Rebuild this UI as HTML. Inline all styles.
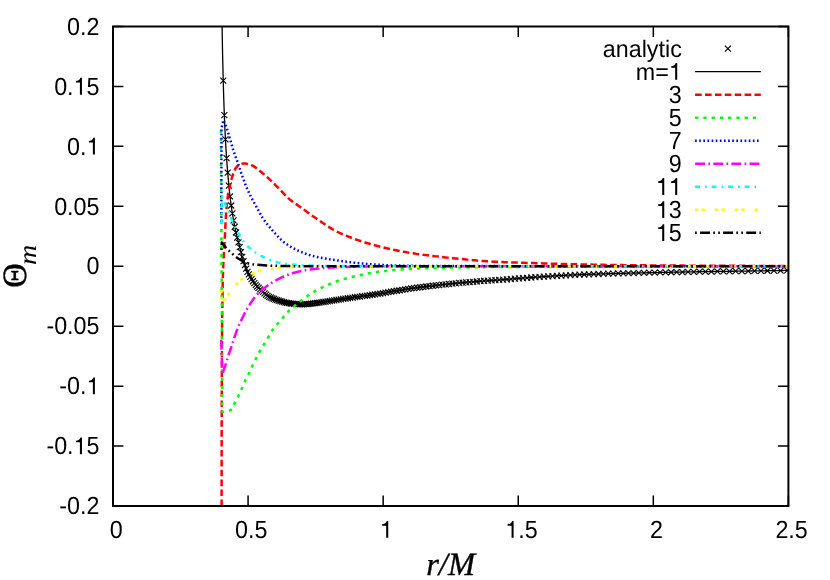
<!DOCTYPE html>
<html><head><meta charset="utf-8"><title>plot</title>
<style>html,body{margin:0;padding:0;background:#fff}svg{display:block;will-change:transform}</style></head>
<body>
<svg width="830" height="580" viewBox="0 0 830 580">
<defs><clipPath id="c"><rect x="113.00" y="26.50" width="675.40" height="479.50"/></clipPath></defs>
<path d="M113.00,506.00 v-10.4 M113.00,26.50 v10.4 M248.08,506.00 v-10.4 M248.08,26.50 v10.4 M383.16,506.00 v-10.4 M383.16,26.50 v10.4 M518.24,506.00 v-10.4 M518.24,26.50 v10.4 M653.32,506.00 v-10.4 M653.32,26.50 v10.4 M788.40,506.00 v-10.4 M788.40,26.50 v10.4 M113.00,506.00 h10.4 M788.40,506.00 h-10.4 M113.00,446.06 h10.4 M788.40,446.06 h-10.4 M113.00,386.13 h10.4 M788.40,386.13 h-10.4 M113.00,326.19 h10.4 M788.40,326.19 h-10.4 M113.00,266.25 h10.4 M788.40,266.25 h-10.4 M113.00,206.31 h10.4 M788.40,206.31 h-10.4 M113.00,146.37 h10.4 M788.40,146.37 h-10.4 M113.00,86.44 h10.4 M788.40,86.44 h-10.4 M113.00,26.50 h10.4 M788.40,26.50 h-10.4" stroke="#000" stroke-width="1.5" fill="none"/>
<g clip-path="url(#c)">
<path d="M220.24,77.65 l6.0,6.0 M220.24,83.65 l6.0,-6.0 M221.34,112.16 l6.0,6.0 M221.34,118.16 l6.0,-6.0 M222.45,136.43 l6.0,6.0 M222.45,142.43 l6.0,-6.0 M223.58,155.15 l6.0,6.0 M223.58,161.15 l6.0,-6.0 M224.71,169.63 l6.0,6.0 M224.71,175.63 l6.0,-6.0 M225.86,182.59 l6.0,6.0 M225.86,188.59 l6.0,-6.0 M227.02,193.38 l6.0,6.0 M227.02,199.38 l6.0,-6.0 M228.19,202.49 l6.0,6.0 M228.19,208.49 l6.0,-6.0 M229.37,210.30 l6.0,6.0 M229.37,216.30 l6.0,-6.0 M230.56,217.30 l6.0,6.0 M230.56,223.30 l6.0,-6.0 M231.77,223.74 l6.0,6.0 M231.77,229.74 l6.0,-6.0 M232.99,229.50 l6.0,6.0 M232.99,235.50 l6.0,-6.0 M234.22,234.55 l6.0,6.0 M234.22,240.55 l6.0,-6.0 M235.46,239.34 l6.0,6.0 M235.46,245.34 l6.0,-6.0 M236.71,244.18 l6.0,6.0 M236.71,250.18 l6.0,-6.0 M237.98,249.08 l6.0,6.0 M237.98,255.08 l6.0,-6.0 M239.26,253.80 l6.0,6.0 M239.26,259.80 l6.0,-6.0 M240.55,258.20 l6.0,6.0 M240.55,264.20 l6.0,-6.0 M241.86,262.16 l6.0,6.0 M241.86,268.16 l6.0,-6.0 M243.18,265.69 l6.0,6.0 M243.18,271.69 l6.0,-6.0 M244.51,268.79 l6.0,6.0 M244.51,274.79 l6.0,-6.0 M245.85,271.46 l6.0,6.0 M245.85,277.46 l6.0,-6.0 M247.21,273.90 l6.0,6.0 M247.21,279.90 l6.0,-6.0 M248.58,276.16 l6.0,6.0 M248.58,282.16 l6.0,-6.0 M249.97,278.26 l6.0,6.0 M249.97,284.26 l6.0,-6.0 M251.37,280.19 l6.0,6.0 M251.37,286.19 l6.0,-6.0 M252.78,281.95 l6.0,6.0 M252.78,287.95 l6.0,-6.0 M254.21,283.51 l6.0,6.0 M254.21,289.51 l6.0,-6.0 M255.65,284.95 l6.0,6.0 M255.65,290.95 l6.0,-6.0 M257.11,286.32 l6.0,6.0 M257.11,292.32 l6.0,-6.0 M258.58,287.65 l6.0,6.0 M258.58,293.65 l6.0,-6.0 M260.07,288.98 l6.0,6.0 M260.07,294.98 l6.0,-6.0 M261.57,290.33 l6.0,6.0 M261.57,296.33 l6.0,-6.0 M263.08,291.64 l6.0,6.0 M263.08,297.64 l6.0,-6.0 M264.61,292.81 l6.0,6.0 M264.61,298.81 l6.0,-6.0 M266.16,293.81 l6.0,6.0 M266.16,299.81 l6.0,-6.0 M267.72,294.62 l6.0,6.0 M267.72,300.62 l6.0,-6.0 M269.30,295.32 l6.0,6.0 M269.30,301.32 l6.0,-6.0 M270.89,295.96 l6.0,6.0 M270.89,301.96 l6.0,-6.0 M272.50,296.54 l6.0,6.0 M272.50,302.54 l6.0,-6.0 M274.13,297.09 l6.0,6.0 M274.13,303.09 l6.0,-6.0 M275.77,297.61 l6.0,6.0 M275.77,303.61 l6.0,-6.0 M277.43,298.13 l6.0,6.0 M277.43,304.13 l6.0,-6.0 M279.10,298.65 l6.0,6.0 M279.10,304.65 l6.0,-6.0 M280.79,299.15 l6.0,6.0 M280.79,305.15 l6.0,-6.0 M282.50,299.59 l6.0,6.0 M282.50,305.59 l6.0,-6.0 M284.22,299.94 l6.0,6.0 M284.22,305.94 l6.0,-6.0 M285.97,300.23 l6.0,6.0 M285.97,306.23 l6.0,-6.0 M287.73,300.49 l6.0,6.0 M287.73,306.49 l6.0,-6.0 M289.50,300.71 l6.0,6.0 M289.50,306.71 l6.0,-6.0 M291.30,300.88 l6.0,6.0 M291.30,306.88 l6.0,-6.0 M293.11,301.03 l6.0,6.0 M293.11,307.03 l6.0,-6.0 M294.94,301.16 l6.0,6.0 M294.94,307.16 l6.0,-6.0 M296.79,301.26 l6.0,6.0 M296.79,307.26 l6.0,-6.0 M298.66,301.30 l6.0,6.0 M298.66,307.30 l6.0,-6.0 M300.55,301.26 l6.0,6.0 M300.55,307.26 l6.0,-6.0 M302.45,301.16 l6.0,6.0 M302.45,307.16 l6.0,-6.0 M304.38,301.02 l6.0,6.0 M304.38,307.02 l6.0,-6.0 M306.32,300.87 l6.0,6.0 M306.32,306.87 l6.0,-6.0 M308.28,300.68 l6.0,6.0 M308.28,306.68 l6.0,-6.0 M310.27,300.46 l6.0,6.0 M310.27,306.46 l6.0,-6.0 M312.27,300.19 l6.0,6.0 M312.27,306.19 l6.0,-6.0 M314.29,299.91 l6.0,6.0 M314.29,305.91 l6.0,-6.0 M316.33,299.60 l6.0,6.0 M316.33,305.60 l6.0,-6.0 M318.40,299.29 l6.0,6.0 M318.40,305.29 l6.0,-6.0 M320.48,298.99 l6.0,6.0 M320.48,304.99 l6.0,-6.0 M322.59,298.68 l6.0,6.0 M322.59,304.68 l6.0,-6.0 M324.71,298.37 l6.0,6.0 M324.71,304.37 l6.0,-6.0 M326.86,298.04 l6.0,6.0 M326.86,304.04 l6.0,-6.0 M329.03,297.70 l6.0,6.0 M329.03,303.70 l6.0,-6.0 M331.22,297.35 l6.0,6.0 M331.22,303.35 l6.0,-6.0 M333.43,297.01 l6.0,6.0 M333.43,303.01 l6.0,-6.0 M335.66,296.67 l6.0,6.0 M335.66,302.67 l6.0,-6.0 M337.92,296.32 l6.0,6.0 M337.92,302.32 l6.0,-6.0 M340.20,295.97 l6.0,6.0 M340.20,301.97 l6.0,-6.0 M342.50,295.62 l6.0,6.0 M342.50,301.62 l6.0,-6.0 M344.83,295.26 l6.0,6.0 M344.83,301.26 l6.0,-6.0 M347.18,294.91 l6.0,6.0 M347.18,300.91 l6.0,-6.0 M349.55,294.56 l6.0,6.0 M349.55,300.56 l6.0,-6.0 M351.94,294.22 l6.0,6.0 M351.94,300.22 l6.0,-6.0 M354.36,293.89 l6.0,6.0 M354.36,299.89 l6.0,-6.0 M356.81,293.56 l6.0,6.0 M356.81,299.56 l6.0,-6.0 M359.27,293.22 l6.0,6.0 M359.27,299.22 l6.0,-6.0 M361.77,292.88 l6.0,6.0 M361.77,298.88 l6.0,-6.0 M364.28,292.52 l6.0,6.0 M364.28,298.52 l6.0,-6.0 M366.83,292.14 l6.0,6.0 M366.83,298.14 l6.0,-6.0 M369.40,291.76 l6.0,6.0 M369.40,297.76 l6.0,-6.0 M371.99,291.37 l6.0,6.0 M371.99,297.37 l6.0,-6.0 M374.61,290.97 l6.0,6.0 M374.61,296.97 l6.0,-6.0 M377.26,290.55 l6.0,6.0 M377.26,296.55 l6.0,-6.0 M379.93,290.12 l6.0,6.0 M379.93,296.12 l6.0,-6.0 M382.63,289.67 l6.0,6.0 M382.63,295.67 l6.0,-6.0 M385.35,289.20 l6.0,6.0 M385.35,295.20 l6.0,-6.0 M388.11,288.72 l6.0,6.0 M388.11,294.72 l6.0,-6.0 M390.89,288.23 l6.0,6.0 M390.89,294.23 l6.0,-6.0 M393.70,287.75 l6.0,6.0 M393.70,293.75 l6.0,-6.0 M396.53,287.28 l6.0,6.0 M396.53,293.28 l6.0,-6.0 M399.40,286.81 l6.0,6.0 M399.40,292.81 l6.0,-6.0 M402.29,286.35 l6.0,6.0 M402.29,292.35 l6.0,-6.0 M405.22,285.90 l6.0,6.0 M405.22,291.90 l6.0,-6.0 M408.17,285.47 l6.0,6.0 M408.17,291.47 l6.0,-6.0 M411.15,285.06 l6.0,6.0 M411.15,291.06 l6.0,-6.0 M414.16,284.65 l6.0,6.0 M414.16,290.65 l6.0,-6.0 M417.20,284.25 l6.0,6.0 M417.20,290.25 l6.0,-6.0 M420.27,283.87 l6.0,6.0 M420.27,289.87 l6.0,-6.0 M423.38,283.49 l6.0,6.0 M423.38,289.49 l6.0,-6.0 M426.51,283.12 l6.0,6.0 M426.51,289.12 l6.0,-6.0 M429.68,282.76 l6.0,6.0 M429.68,288.76 l6.0,-6.0 M432.87,282.41 l6.0,6.0 M432.87,288.41 l6.0,-6.0 M436.10,282.06 l6.0,6.0 M436.10,288.06 l6.0,-6.0 M439.36,281.71 l6.0,6.0 M439.36,287.71 l6.0,-6.0 M442.66,281.36 l6.0,6.0 M442.66,287.36 l6.0,-6.0 M445.98,281.01 l6.0,6.0 M445.98,287.01 l6.0,-6.0 M449.34,280.66 l6.0,6.0 M449.34,286.66 l6.0,-6.0 M452.74,280.32 l6.0,6.0 M452.74,286.32 l6.0,-6.0 M456.16,279.98 l6.0,6.0 M456.16,285.98 l6.0,-6.0 M459.63,279.66 l6.0,6.0 M459.63,285.66 l6.0,-6.0 M463.12,279.35 l6.0,6.0 M463.12,285.35 l6.0,-6.0 M466.65,279.05 l6.0,6.0 M466.65,285.05 l6.0,-6.0 M470.22,278.77 l6.0,6.0 M470.22,284.77 l6.0,-6.0 M473.82,278.50 l6.0,6.0 M473.82,284.50 l6.0,-6.0 M477.46,278.23 l6.0,6.0 M477.46,284.23 l6.0,-6.0 M481.13,277.97 l6.0,6.0 M481.13,283.97 l6.0,-6.0 M484.85,277.71 l6.0,6.0 M484.85,283.71 l6.0,-6.0 M488.59,277.45 l6.0,6.0 M488.59,283.45 l6.0,-6.0 M492.38,277.19 l6.0,6.0 M492.38,283.19 l6.0,-6.0 M496.20,276.91 l6.0,6.0 M496.20,282.91 l6.0,-6.0 M500.07,276.62 l6.0,6.0 M500.07,282.62 l6.0,-6.0 M503.97,276.32 l6.0,6.0 M503.97,282.32 l6.0,-6.0 M507.91,276.02 l6.0,6.0 M507.91,282.02 l6.0,-6.0 M511.89,275.71 l6.0,6.0 M511.89,281.71 l6.0,-6.0 M515.90,275.40 l6.0,6.0 M515.90,281.40 l6.0,-6.0 M519.96,275.09 l6.0,6.0 M519.96,281.09 l6.0,-6.0 M524.06,274.78 l6.0,6.0 M524.06,280.78 l6.0,-6.0 M528.20,274.49 l6.0,6.0 M528.20,280.49 l6.0,-6.0 M532.39,274.20 l6.0,6.0 M532.39,280.20 l6.0,-6.0 M536.61,273.92 l6.0,6.0 M536.61,279.92 l6.0,-6.0 M540.88,273.64 l6.0,6.0 M540.88,279.64 l6.0,-6.0 M545.18,273.36 l6.0,6.0 M545.18,279.36 l6.0,-6.0 M549.54,273.08 l6.0,6.0 M549.54,279.08 l6.0,-6.0 M553.93,272.81 l6.0,6.0 M553.93,278.81 l6.0,-6.0 M558.37,272.56 l6.0,6.0 M558.37,278.56 l6.0,-6.0 M562.85,272.31 l6.0,6.0 M562.85,278.31 l6.0,-6.0 M567.38,272.09 l6.0,6.0 M567.38,278.09 l6.0,-6.0 M571.96,271.88 l6.0,6.0 M571.96,277.88 l6.0,-6.0 M576.58,271.69 l6.0,6.0 M576.58,277.69 l6.0,-6.0 M581.24,271.50 l6.0,6.0 M581.24,277.50 l6.0,-6.0 M585.95,271.33 l6.0,6.0 M585.95,277.33 l6.0,-6.0 M590.71,271.16 l6.0,6.0 M590.71,277.16 l6.0,-6.0 M595.52,271.00 l6.0,6.0 M595.52,277.00 l6.0,-6.0 M600.38,270.85 l6.0,6.0 M600.38,276.85 l6.0,-6.0 M605.28,270.70 l6.0,6.0 M605.28,276.70 l6.0,-6.0 M610.23,270.56 l6.0,6.0 M610.23,276.56 l6.0,-6.0 M615.24,270.43 l6.0,6.0 M615.24,276.43 l6.0,-6.0 M620.29,270.30 l6.0,6.0 M620.29,276.30 l6.0,-6.0 M625.39,270.18 l6.0,6.0 M625.39,276.18 l6.0,-6.0 M630.54,270.06 l6.0,6.0 M630.54,276.06 l6.0,-6.0 M635.75,269.94 l6.0,6.0 M635.75,275.94 l6.0,-6.0 M641.01,269.83 l6.0,6.0 M641.01,275.83 l6.0,-6.0 M646.32,269.71 l6.0,6.0 M646.32,275.71 l6.0,-6.0 M651.68,269.60 l6.0,6.0 M651.68,275.60 l6.0,-6.0 M657.10,269.48 l6.0,6.0 M657.10,275.48 l6.0,-6.0 M662.57,269.37 l6.0,6.0 M662.57,275.37 l6.0,-6.0 M668.09,269.26 l6.0,6.0 M668.09,275.26 l6.0,-6.0 M673.68,269.14 l6.0,6.0 M673.68,275.14 l6.0,-6.0 M679.31,269.03 l6.0,6.0 M679.31,275.03 l6.0,-6.0 M685.01,268.93 l6.0,6.0 M685.01,274.93 l6.0,-6.0 M690.76,268.82 l6.0,6.0 M690.76,274.82 l6.0,-6.0 M696.56,268.72 l6.0,6.0 M696.56,274.72 l6.0,-6.0 M702.43,268.62 l6.0,6.0 M702.43,274.62 l6.0,-6.0 M708.35,268.53 l6.0,6.0 M708.35,274.53 l6.0,-6.0 M714.34,268.44 l6.0,6.0 M714.34,274.44 l6.0,-6.0 M720.38,268.36 l6.0,6.0 M720.38,274.36 l6.0,-6.0 M726.48,268.28 l6.0,6.0 M726.48,274.28 l6.0,-6.0 M732.65,268.20 l6.0,6.0 M732.65,274.20 l6.0,-6.0 M738.87,268.12 l6.0,6.0 M738.87,274.12 l6.0,-6.0 M745.16,268.03 l6.0,6.0 M745.16,274.03 l6.0,-6.0 M751.52,267.93 l6.0,6.0 M751.52,273.93 l6.0,-6.0 M757.93,267.84 l6.0,6.0 M757.93,273.84 l6.0,-6.0 M764.41,267.74 l6.0,6.0 M764.41,273.74 l6.0,-6.0 M770.95,267.63 l6.0,6.0 M770.95,273.63 l6.0,-6.0 M777.56,267.53 l6.0,6.0 M777.56,273.53 l6.0,-6.0 M784.24,267.42 l6.0,6.0 M784.24,273.42 l6.0,-6.0" stroke="#000" stroke-width="1.1" fill="none"/>
<path d="M222.10,26.30 L222.11,26.84 L222.12,27.37 L222.12,27.91 L222.13,28.44 L222.14,28.98 L222.15,29.52 L222.16,30.05 L222.16,30.59 L222.17,31.12 L222.18,31.66 L222.19,32.20 L222.20,32.73 L222.21,33.27 L222.21,33.80 L222.22,34.34 L222.23,34.88 L222.24,35.41 L222.25,35.95 L222.26,36.48 L222.27,37.02 L222.28,37.56 L222.29,38.09 L222.30,38.63 L222.31,39.16 L222.32,39.70 L222.33,40.24 L222.34,40.77 L222.35,41.31 L222.36,41.84 L222.37,42.38 L222.38,42.92 L222.39,43.45 L222.40,43.99 L222.41,44.52 L222.42,45.06 L222.43,45.60 L222.44,46.13 L222.45,46.67 L222.46,47.20 L222.47,47.74 L222.48,48.28 L222.49,48.81 L222.50,49.35 L222.51,49.88 L222.53,50.42 L222.54,50.96 L222.55,51.49 L222.56,52.03 L222.57,52.56 L222.58,53.10 L222.59,53.64 L222.60,54.17 L222.62,54.71 L222.63,55.24 L222.64,55.78 L222.65,56.32 L222.66,56.85 L222.67,57.39 L222.69,57.92 L222.70,58.46 L222.71,59.00 L222.72,59.53 L222.74,60.07 L222.75,60.60 L222.76,61.14 L222.77,61.68 L222.78,62.21 L222.80,62.75 L222.81,63.28 L222.82,63.82 L222.83,64.35 L222.85,64.89 L222.86,65.43 L222.87,65.96 L222.88,66.50 L222.90,67.03 L222.91,67.57 L222.92,68.11 L222.94,68.64 L222.95,69.18 L222.96,69.71 L222.98,70.25 L222.99,70.79 L223.00,71.32 L223.01,71.86 L223.03,72.39 L223.04,72.93 L223.05,73.47 L223.07,74.00 L223.08,74.54 L223.09,75.07 L223.11,75.61 L223.12,76.14 L223.14,76.68 L223.15,77.22 L223.16,77.75 L223.18,78.29 L223.19,78.82 L223.20,79.36 L223.22,79.90 L223.23,80.43 L223.24,80.97 L223.26,81.50 L223.27,82.04 L223.29,82.58 L223.30,83.11 L223.31,83.65 L223.33,84.18 L223.34,84.72 L223.36,85.25 L223.37,85.79 L223.39,86.33 L223.40,86.86 L223.42,87.40 L223.43,87.93 L223.45,88.47 L223.46,89.01 L223.48,89.54 L223.49,90.08 L223.51,90.61 L223.53,91.15 L223.54,91.68 L223.56,92.22 L223.57,92.76 L223.59,93.29 L223.61,93.83 L223.62,94.36 L223.64,94.90 L223.66,95.44 L223.67,95.97 L223.69,96.51 L223.71,97.04 L223.72,97.58 L223.74,98.11 L223.76,98.65 L223.78,99.19 L223.79,99.72 L223.81,100.26 L223.83,100.79 L223.85,101.33 L223.86,101.87 L223.88,102.40 L223.90,102.94 L223.92,103.47 L223.94,104.01 L223.95,104.54 L223.97,105.08 L223.99,105.62 L224.01,106.15 L224.03,106.69 L224.05,107.22 L224.07,107.76 L224.09,108.29 L224.10,108.83 L224.12,109.37 L224.14,109.90 L224.16,110.44 L224.18,110.97 L224.20,111.51 L224.22,112.04 L224.24,112.58 L224.26,113.12 L224.28,113.65 L224.30,114.19 L224.32,114.72 L224.34,115.26 L224.36,115.79 L224.38,116.33 L224.40,116.87 L224.43,117.40 L224.45,117.94 L224.47,118.47 L224.49,119.01 L224.51,119.54 L224.53,120.08 L224.56,120.61 L224.58,121.15 L224.60,121.69 L224.63,122.22 L224.65,122.76 L224.67,123.29 L224.70,123.83 L224.72,124.36 L224.74,124.90 L224.77,125.43 L224.79,125.97 L224.82,126.51 L224.84,127.04 L224.86,127.58 L224.89,128.11 L224.91,128.65 L224.94,129.18 L224.97,129.72 L224.99,130.25 L225.02,130.79 L225.04,131.33 L225.07,131.86 L225.09,132.40 L225.12,132.93 L225.15,133.47 L225.17,134.00 L225.20,134.54 L225.23,135.07 L225.25,135.61 L225.28,136.14 L225.31,136.68 L225.34,137.22 L225.36,137.75 L225.39,138.29 L225.42,138.82 L225.45,139.36 L225.48,139.89 L225.50,140.43 L225.53,140.96 L225.56,141.50 L225.59,142.03 L225.62,142.57 L225.65,143.10 L225.68,143.64 L225.71,144.17 L225.74,144.71 L225.77,145.24 L225.80,145.78 L225.83,146.31 L225.86,146.85 L225.89,147.39 L225.92,147.92 L225.96,148.46 L225.99,148.99 L226.02,149.53 L226.05,150.06 L226.09,150.60 L226.12,151.13 L226.15,151.67 L226.19,152.20 L226.22,152.74 L226.25,153.27 L226.29,153.81 L226.32,154.34 L226.36,154.88 L226.39,155.41 L226.43,155.95 L226.46,156.48 L226.50,157.02 L226.54,157.55 L226.57,158.09 L226.61,158.62 L226.65,159.15 L226.68,159.69 L226.72,160.22 L226.76,160.76 L226.80,161.29 L226.84,161.83 L226.88,162.36 L226.92,162.90 L226.96,163.43 L227.01,163.97 L227.05,164.50 L227.09,165.03 L227.13,165.57 L227.17,166.10 L227.22,166.64 L227.26,167.17 L227.30,167.71 L227.35,168.24 L227.39,168.78 L227.44,169.31 L227.48,169.84 L227.53,170.38 L227.57,170.91 L227.61,171.45 L227.66,171.98 L227.70,172.51 L227.75,173.05 L227.79,173.58 L227.84,174.12 L227.88,174.65 L227.93,175.19 L227.97,175.72 L228.02,176.25 L228.06,176.79 L228.11,177.32 L228.15,177.86 L228.20,178.39 L228.25,178.92 L228.29,179.46 L228.34,179.99 L228.39,180.53 L228.44,181.06 L228.48,181.59 L228.53,182.13 L228.58,182.66 L228.63,183.20 L228.68,183.73 L228.73,184.26 L228.78,184.80 L228.83,185.33 L228.89,185.86 L228.94,186.40 L228.99,186.93 L229.04,187.46 L229.10,188.00 L229.15,188.53 L229.21,189.06 L229.26,189.60 L229.32,190.13 L229.38,190.66 L229.43,191.20 L229.49,191.73 L229.55,192.26 L229.61,192.80 L229.67,193.33 L229.73,193.86 L229.79,194.39 L229.85,194.93 L229.91,195.46 L229.97,195.99 L230.03,196.52 L230.10,197.06 L230.16,197.59 L230.23,198.12 L230.29,198.65 L230.36,199.18 L230.42,199.72 L230.49,200.25 L230.56,200.78 L230.63,201.31 L230.70,201.84 L230.77,202.38 L230.84,202.91 L230.91,203.44 L230.98,203.97 L231.05,204.50 L231.13,205.03 L231.20,205.56 L231.27,206.09 L231.35,206.62 L231.42,207.15 L231.50,207.69 L231.58,208.22 L231.66,208.75 L231.74,209.28 L231.82,209.81 L231.90,210.34 L231.98,210.87 L232.06,211.40 L232.15,211.93 L232.23,212.45 L232.32,212.98 L232.40,213.51 L232.49,214.04 L232.58,214.57 L232.67,215.10 L232.76,215.63 L232.85,216.16 L232.93,216.69 L233.02,217.21 L233.12,217.74 L233.21,218.27 L233.30,218.80 L233.39,219.33 L233.48,219.86 L233.58,220.38 L233.67,220.91 L233.77,221.44 L233.86,221.97 L233.96,222.50 L234.06,223.02 L234.16,223.55 L234.26,224.08 L234.36,224.60 L234.46,225.13 L234.56,225.66 L234.66,226.18 L234.76,226.71 L234.87,227.23 L234.97,227.76 L235.08,228.29 L235.19,228.81 L235.30,229.33 L235.41,229.86 L235.52,230.38 L235.63,230.91 L235.74,231.43 L235.86,231.95 L235.98,232.47 L236.10,233.00 L236.22,233.52 L236.35,234.04 L236.47,234.56 L236.60,235.08 L236.73,235.60 L236.86,236.12 L236.99,236.64 L237.12,237.16 L237.25,237.68 L237.38,238.20 L237.52,238.72 L237.65,239.24 L237.78,239.76 L237.92,240.28 L238.06,240.80 L238.19,241.32 L238.33,241.84 L238.46,242.35 L238.60,242.87 L238.73,243.39 L238.87,243.91 L239.00,244.43 L239.14,244.95 L239.27,245.47 L239.41,245.99 L239.54,246.51 L239.67,247.03 L239.81,247.55 L239.94,248.06 L240.07,248.58 L240.21,249.10 L240.34,249.62 L240.48,250.14 L240.61,250.66 L240.75,251.18 L240.88,251.70 L241.02,252.22 L241.15,252.74 L241.29,253.26 L241.43,253.77 L241.57,254.29 L241.71,254.81 L241.85,255.33 L241.99,255.84 L242.14,256.36 L242.28,256.88 L242.43,257.39 L242.57,257.91 L242.72,258.42 L242.87,258.94 L243.02,259.45 L243.18,259.96 L243.33,260.48 L243.49,260.99 L243.65,261.50 L243.81,262.01 L243.97,262.52 L244.14,263.03 L244.30,263.54 L244.48,264.05 L244.65,264.56 L244.82,265.07 L245.00,265.57 L245.18,266.08 L245.37,266.58 L245.55,267.08 L245.74,267.58 L245.94,268.08 L246.13,268.58 L246.33,269.08 L246.53,269.58 L246.74,270.08 L246.95,270.57 L247.17,271.06 L247.39,271.55 L247.62,272.03 L247.85,272.51 L248.09,272.99 L248.33,273.46 L248.58,273.94 L248.83,274.41 L249.08,274.89 L249.34,275.36 L249.60,275.83 L249.87,276.31 L250.14,276.77 L250.41,277.24 L250.69,277.71 L250.97,278.17 L251.25,278.63 L251.54,279.09 L251.83,279.55 L252.12,280.00 L252.42,280.45 L252.72,280.89 L253.03,281.34 L253.33,281.78 L253.65,282.21 L253.96,282.64 L254.28,283.06 L254.60,283.49 L254.92,283.90 L255.25,284.31 L255.59,284.72 L255.93,285.12 L256.29,285.52 L256.65,285.91 L257.01,286.31 L257.38,286.69 L257.76,287.08 L258.14,287.46 L258.53,287.84 L258.92,288.21 L259.31,288.58 L259.71,288.95 L260.11,289.32 L260.51,289.68 L260.91,290.04 L261.31,290.40 L261.71,290.76 L262.11,291.12 L262.51,291.47 L262.91,291.83 L263.31,292.20 L263.71,292.56 L264.11,292.93 L264.52,293.29 L264.93,293.65 L265.34,294.01 L265.76,294.36 L266.17,294.71 L266.59,295.05 L267.02,295.38 L267.45,295.70 L267.88,296.00 L268.32,296.30 L268.77,296.58 L269.22,296.84 L269.67,297.09 L270.13,297.33 L270.60,297.56 L271.08,297.79 L271.56,298.00 L272.05,298.22 L272.54,298.42 L273.04,298.63 L273.54,298.82 L274.05,299.01 L274.55,299.20 L275.06,299.39 L275.58,299.57 L276.09,299.74 L276.61,299.91 L277.13,300.09 L277.64,300.25 L278.16,300.42 L278.67,300.58 L279.19,300.74 L279.70,300.91 L280.21,301.07 L280.72,301.23 L281.23,301.39 L281.75,301.55 L282.26,301.70 L282.78,301.86 L283.29,302.01 L283.81,302.16 L284.33,302.30 L284.85,302.43 L285.37,302.56 L285.89,302.68 L286.41,302.79 L286.94,302.89 L287.46,302.98 L287.99,303.07 L288.52,303.16 L289.05,303.25 L289.58,303.33 L290.11,303.41 L290.64,303.48 L291.17,303.55 L291.71,303.62 L292.24,303.68 L292.77,303.74 L293.31,303.79 L293.84,303.84 L294.38,303.89 L294.91,303.93 L295.44,303.97 L295.98,304.02 L296.51,304.06 L297.05,304.10 L297.58,304.14 L298.12,304.17 L298.66,304.20 L299.19,304.23 L299.73,304.26 L300.26,304.28 L300.80,304.29 L301.33,304.30 L301.87,304.30 L302.40,304.29 L302.94,304.28 L303.48,304.26 L304.01,304.24 L304.55,304.21 L305.08,304.18 L305.62,304.15 L306.15,304.11 L306.69,304.07 L307.22,304.03 L307.76,303.99 L308.29,303.95 L308.83,303.91 L309.36,303.86 L309.89,303.82 L310.43,303.77 L310.96,303.72 L311.49,303.66 L312.03,303.60 L312.56,303.54 L313.09,303.48 L313.62,303.41 L314.15,303.34 L314.69,303.27 L315.22,303.20 L315.75,303.13 L316.28,303.05 L316.81,302.98 L317.34,302.90 L317.87,302.82 L318.40,302.74 L318.93,302.66 L319.46,302.58 L320.00,302.50 L320.53,302.42 L321.06,302.34 L321.59,302.26 L322.12,302.18 L322.65,302.11 L323.18,302.03 L323.71,301.96 L324.24,301.88 L324.77,301.80 L325.30,301.73 L325.83,301.65 L326.36,301.57 L326.89,301.49 L327.42,301.41 L327.95,301.33 L328.48,301.25 L329.01,301.17 L329.54,301.08 L330.07,301.00 L330.60,300.92 L331.13,300.84 L331.66,300.75 L332.19,300.67 L332.72,300.59 L333.25,300.51 L333.78,300.42 L334.31,300.34 L334.84,300.26 L335.37,300.17 L335.90,300.09 L336.43,300.01 L336.96,299.93 L337.49,299.85 L338.02,299.77 L338.55,299.69 L339.08,299.60 L339.61,299.52 L340.14,299.44 L340.67,299.36 L341.20,299.28 L341.73,299.20 L342.26,299.12 L342.79,299.03 L343.32,298.95 L343.85,298.87 L344.38,298.79 L344.91,298.71 L345.44,298.63 L345.97,298.55 L346.50,298.47 L347.03,298.39 L347.56,298.30 L348.09,298.22 L348.62,298.14 L349.15,298.07 L349.68,297.99 L350.21,297.91 L350.74,297.83 L351.27,297.75 L351.80,297.67 L352.33,297.60 L352.86,297.52 L353.39,297.44 L353.92,297.37 L354.45,297.29 L354.98,297.22 L355.51,297.15 L356.04,297.07 L356.57,297.00 L357.11,296.93 L357.64,296.85 L358.17,296.78 L358.70,296.71 L359.23,296.64 L359.76,296.56 L360.29,296.49 L360.82,296.42 L361.36,296.35 L361.89,296.28 L362.42,296.20 L362.95,296.13 L363.48,296.06 L364.01,295.98 L364.54,295.91 L365.07,295.83 L365.60,295.76 L366.13,295.68 L366.66,295.61 L367.19,295.53 L367.73,295.45 L368.26,295.37 L368.79,295.30 L369.32,295.22 L369.85,295.14 L370.38,295.06 L370.91,294.98 L371.44,294.90 L371.97,294.83 L372.50,294.75 L373.03,294.67 L373.56,294.59 L374.09,294.51 L374.62,294.43 L375.15,294.35 L375.68,294.26 L376.21,294.18 L376.74,294.10 L377.27,294.02 L377.80,293.94 L378.33,293.85 L378.86,293.77 L379.39,293.69 L379.92,293.60 L380.45,293.52 L380.98,293.44 L381.50,293.35 L382.03,293.27 L382.56,293.18 L383.09,293.09 L383.62,293.00 L384.15,292.92 L384.68,292.83 L385.21,292.74 L385.73,292.65 L386.26,292.56 L386.79,292.47 L387.32,292.38 L387.85,292.29 L388.38,292.19 L388.90,292.10 L389.43,292.01 L389.96,291.92 L390.49,291.83 L391.02,291.73 L391.55,291.64 L392.07,291.55 L392.60,291.46 L393.13,291.36 L393.66,291.27 L394.19,291.18 L394.71,291.09 L395.24,291.00 L395.77,290.91 L396.30,290.82 L396.83,290.73 L397.36,290.64 L397.88,290.55 L398.41,290.46 L398.94,290.37 L399.47,290.29 L400.00,290.20 L400.53,290.11 L401.06,290.03 L401.59,289.94 L402.12,289.86 L402.65,289.77 L403.18,289.69 L403.70,289.60 L404.23,289.52 L404.76,289.43 L405.29,289.35 L405.82,289.27 L406.35,289.18 L406.88,289.10 L407.41,289.02 L407.94,288.94 L408.47,288.86 L409.00,288.78 L409.53,288.71 L410.06,288.63 L410.59,288.55 L411.13,288.48 L411.66,288.40 L412.19,288.33 L412.72,288.25 L413.25,288.18 L413.78,288.11 L414.31,288.03 L414.84,287.96 L415.37,287.89 L415.90,287.82 L416.44,287.75 L416.97,287.68 L417.50,287.60 L418.03,287.53 L418.56,287.47 L419.09,287.40 L419.63,287.33 L420.16,287.26 L420.69,287.19 L421.22,287.12 L421.75,287.06 L422.28,286.99 L422.82,286.92 L423.35,286.86 L423.88,286.79 L424.41,286.73 L424.94,286.66 L425.48,286.60 L426.01,286.53 L426.54,286.47 L427.07,286.41 L427.61,286.34 L428.14,286.28 L428.67,286.22 L429.20,286.16 L429.74,286.10 L430.27,286.04 L430.80,285.97 L431.33,285.91 L431.87,285.85 L432.40,285.79 L432.93,285.73 L433.46,285.67 L434.00,285.62 L434.53,285.56 L435.06,285.50 L435.60,285.44 L436.13,285.38 L436.66,285.32 L437.19,285.27 L437.73,285.21 L438.26,285.15 L438.79,285.09 L439.33,285.04 L439.86,284.98 L440.39,284.92 L440.93,284.86 L441.46,284.81 L441.99,284.75 L442.52,284.69 L443.06,284.63 L443.59,284.58 L444.12,284.52 L444.66,284.46 L445.19,284.41 L445.72,284.35 L446.26,284.29 L446.79,284.24 L447.32,284.18 L447.86,284.12 L448.39,284.07 L448.92,284.01 L449.46,283.96 L449.99,283.90 L450.52,283.85 L451.06,283.79 L451.59,283.74 L452.12,283.68 L452.66,283.63 L453.19,283.57 L453.72,283.52 L454.26,283.46 L454.79,283.41 L455.32,283.36 L455.86,283.30 L456.39,283.25 L456.92,283.20 L457.46,283.15 L457.99,283.10 L458.52,283.04 L459.06,282.99 L459.59,282.94 L460.12,282.89 L460.66,282.84 L461.19,282.79 L461.73,282.74 L462.26,282.69 L462.79,282.64 L463.33,282.60 L463.86,282.55 L464.39,282.50 L464.93,282.45 L465.46,282.41 L466.00,282.36 L466.53,282.31 L467.06,282.27 L467.60,282.22 L468.13,282.18 L468.67,282.14 L469.20,282.09 L469.74,282.05 L470.27,282.00 L470.80,281.96 L471.34,281.92 L471.87,281.88 L472.41,281.84 L472.94,281.79 L473.48,281.75 L474.01,281.71 L474.54,281.67 L475.08,281.63 L475.61,281.59 L476.15,281.55 L476.68,281.51 L477.22,281.47 L477.75,281.43 L478.29,281.39 L478.82,281.35 L479.36,281.31 L479.89,281.28 L480.43,281.24 L480.96,281.20 L481.49,281.16 L482.03,281.12 L482.56,281.08 L483.10,281.05 L483.63,281.01 L484.17,280.97 L484.70,280.93 L485.24,280.90 L485.77,280.86 L486.31,280.82 L486.84,280.78 L487.38,280.75 L487.91,280.71 L488.45,280.67 L488.98,280.64 L489.52,280.60 L490.05,280.56 L490.59,280.52 L491.12,280.49 L491.66,280.45 L492.19,280.41 L492.73,280.37 L493.26,280.34 L493.80,280.30 L494.33,280.26 L494.87,280.22 L495.40,280.18 L495.93,280.15 L496.47,280.11 L497.00,280.07 L497.54,280.03 L498.07,279.99 L498.61,279.95 L499.14,279.91 L499.68,279.87 L500.21,279.83 L500.75,279.79 L501.28,279.75 L501.82,279.71 L502.35,279.67 L502.88,279.63 L503.42,279.59 L503.95,279.55 L504.49,279.51 L505.02,279.47 L505.56,279.43 L506.09,279.39 L506.63,279.35 L507.16,279.31 L507.70,279.27 L508.23,279.23 L508.76,279.18 L509.30,279.14 L509.83,279.10 L510.37,279.06 L510.90,279.02 L511.44,278.98 L511.97,278.94 L512.51,278.89 L513.04,278.85 L513.58,278.81 L514.11,278.77 L514.64,278.73 L515.18,278.69 L515.71,278.64 L516.25,278.60 L516.78,278.56 L517.32,278.52 L517.85,278.48 L518.39,278.44 L518.92,278.40 L519.45,278.36 L519.99,278.32 L520.52,278.27 L521.06,278.23 L521.59,278.19 L522.13,278.15 L522.66,278.11 L523.20,278.07 L523.73,278.03 L524.27,277.99 L524.80,277.95 L525.33,277.91 L525.87,277.87 L526.40,277.83 L526.94,277.79 L527.47,277.75 L528.01,277.71 L528.54,277.68 L529.08,277.64 L529.61,277.60 L530.15,277.56 L530.68,277.52 L531.22,277.48 L531.75,277.45 L532.29,277.41 L532.82,277.37 L533.35,277.34 L533.89,277.30 L534.42,277.26 L534.96,277.23 L535.49,277.19 L536.03,277.15 L536.56,277.12 L537.10,277.08 L537.63,277.05 L538.17,277.01 L538.70,276.98 L539.24,276.94 L539.77,276.91 L540.31,276.87 L540.84,276.84 L541.38,276.80 L541.91,276.77 L542.45,276.73 L542.98,276.69 L543.52,276.66 L544.05,276.62 L544.59,276.59 L545.12,276.55 L545.66,276.52 L546.19,276.49 L546.73,276.45 L547.26,276.42 L547.80,276.38 L548.33,276.35 L548.87,276.31 L549.40,276.28 L549.94,276.24 L550.47,276.21 L551.01,276.18 L551.54,276.14 L552.08,276.11 L552.61,276.08 L553.15,276.04 L553.68,276.01 L554.22,275.98 L554.75,275.94 L555.29,275.91 L555.82,275.88 L556.36,275.85 L556.89,275.82 L557.43,275.78 L557.96,275.75 L558.50,275.72 L559.03,275.69 L559.57,275.66 L560.11,275.63 L560.64,275.60 L561.18,275.57 L561.71,275.54 L562.25,275.51 L562.78,275.48 L563.32,275.45 L563.85,275.42 L564.39,275.39 L564.92,275.36 L565.46,275.33 L565.99,275.31 L566.53,275.28 L567.06,275.25 L567.60,275.22 L568.13,275.20 L568.67,275.17 L569.21,275.14 L569.74,275.12 L570.28,275.09 L570.81,275.07 L571.35,275.04 L571.88,275.02 L572.42,274.99 L572.95,274.97 L573.49,274.95 L574.02,274.92 L574.56,274.90 L575.09,274.88 L575.63,274.85 L576.17,274.83 L576.70,274.81 L577.24,274.79 L577.77,274.76 L578.31,274.74 L578.84,274.72 L579.38,274.70 L579.91,274.68 L580.45,274.65 L580.99,274.63 L581.52,274.61 L582.06,274.59 L582.59,274.57 L583.13,274.55 L583.66,274.53 L584.20,274.51 L584.74,274.49 L585.27,274.46 L585.81,274.44 L586.34,274.42 L586.88,274.40 L587.41,274.38 L587.95,274.37 L588.49,274.35 L589.02,274.33 L589.56,274.31 L590.09,274.29 L590.63,274.27 L591.16,274.25 L591.70,274.23 L592.24,274.21 L592.77,274.19 L593.31,274.18 L593.84,274.16 L594.38,274.14 L594.92,274.12 L595.45,274.10 L595.99,274.08 L596.52,274.07 L597.06,274.05 L597.59,274.03 L598.13,274.01 L598.67,274.00 L599.20,273.98 L599.74,273.96 L600.27,273.95 L600.81,273.93 L601.35,273.91 L601.88,273.90 L602.42,273.88 L602.95,273.86 L603.49,273.85 L604.02,273.83 L604.56,273.81 L605.10,273.80 L605.63,273.78 L606.17,273.77 L606.70,273.75 L607.24,273.73 L607.78,273.72 L608.31,273.70 L608.85,273.69 L609.38,273.67 L609.92,273.66 L610.45,273.64 L610.99,273.63 L611.53,273.61 L612.06,273.60 L612.60,273.58 L613.13,273.57 L613.67,273.55 L614.21,273.54 L614.74,273.52 L615.28,273.51 L615.81,273.49 L616.35,273.48 L616.88,273.47 L617.42,273.45 L617.96,273.44 L618.49,273.42 L619.03,273.41 L619.56,273.40 L620.10,273.38 L620.64,273.37 L621.17,273.36 L621.71,273.34 L622.24,273.33 L622.78,273.32 L623.32,273.30 L623.85,273.29 L624.39,273.28 L624.92,273.26 L625.46,273.25 L626.00,273.24 L626.53,273.22 L627.07,273.21 L627.60,273.20 L628.14,273.19 L628.67,273.17 L629.21,273.16 L629.75,273.15 L630.28,273.14 L630.82,273.12 L631.35,273.11 L631.89,273.10 L632.43,273.09 L632.96,273.07 L633.50,273.06 L634.03,273.05 L634.57,273.04 L635.11,273.03 L635.64,273.01 L636.18,273.00 L636.71,272.99 L637.25,272.98 L637.79,272.97 L638.32,272.95 L638.86,272.94 L639.39,272.93 L639.93,272.92 L640.47,272.91 L641.00,272.90 L641.54,272.88 L642.07,272.87 L642.61,272.86 L643.15,272.85 L643.68,272.84 L644.22,272.83 L644.75,272.81 L645.29,272.80 L645.83,272.79 L646.36,272.78 L646.90,272.77 L647.43,272.76 L647.97,272.74 L648.50,272.73 L649.04,272.72 L649.58,272.71 L650.11,272.70 L650.65,272.69 L651.18,272.67 L651.72,272.66 L652.26,272.65 L652.79,272.64 L653.33,272.63 L653.86,272.62 L654.40,272.61 L654.94,272.59 L655.47,272.58 L656.01,272.57 L656.54,272.56 L657.08,272.55 L657.62,272.54 L658.15,272.53 L658.69,272.51 L659.22,272.50 L659.76,272.49 L660.30,272.48 L660.83,272.47 L661.37,272.46 L661.90,272.45 L662.44,272.43 L662.98,272.42 L663.51,272.41 L664.05,272.40 L664.58,272.39 L665.12,272.38 L665.66,272.37 L666.19,272.36 L666.73,272.35 L667.26,272.33 L667.80,272.32 L668.34,272.31 L668.87,272.30 L669.41,272.29 L669.94,272.28 L670.48,272.27 L671.02,272.26 L671.55,272.25 L672.09,272.24 L672.62,272.22 L673.16,272.21 L673.69,272.20 L674.23,272.19 L674.77,272.18 L675.30,272.17 L675.84,272.16 L676.37,272.15 L676.91,272.14 L677.45,272.13 L677.98,272.12 L678.52,272.11 L679.05,272.10 L679.59,272.09 L680.13,272.08 L680.66,272.07 L681.20,272.05 L681.73,272.04 L682.27,272.03 L682.81,272.02 L683.34,272.01 L683.88,272.00 L684.41,271.99 L684.95,271.98 L685.49,271.97 L686.02,271.96 L686.56,271.95 L687.09,271.94 L687.63,271.93 L688.17,271.92 L688.70,271.91 L689.24,271.90 L689.77,271.89 L690.31,271.88 L690.85,271.87 L691.38,271.86 L691.92,271.85 L692.45,271.84 L692.99,271.83 L693.53,271.82 L694.06,271.81 L694.60,271.81 L695.13,271.80 L695.67,271.79 L696.21,271.78 L696.74,271.77 L697.28,271.76 L697.81,271.75 L698.35,271.74 L698.89,271.73 L699.42,271.72 L699.96,271.71 L700.49,271.70 L701.03,271.69 L701.57,271.68 L702.10,271.68 L702.64,271.67 L703.17,271.66 L703.71,271.65 L704.25,271.64 L704.78,271.63 L705.32,271.62 L705.85,271.61 L706.39,271.60 L706.93,271.60 L707.46,271.59 L708.00,271.58 L708.53,271.57 L709.07,271.56 L709.61,271.55 L710.14,271.55 L710.68,271.54 L711.21,271.53 L711.75,271.52 L712.29,271.51 L712.82,271.51 L713.36,271.50 L713.89,271.49 L714.43,271.48 L714.97,271.47 L715.50,271.47 L716.04,271.46 L716.57,271.45 L717.11,271.44 L717.65,271.44 L718.18,271.43 L718.72,271.42 L719.25,271.41 L719.79,271.41 L720.33,271.40 L720.86,271.39 L721.40,271.39 L721.93,271.38 L722.47,271.37 L723.01,271.36 L723.54,271.36 L724.08,271.35 L724.61,271.34 L725.15,271.34 L725.69,271.33 L726.22,271.32 L726.76,271.31 L727.29,271.31 L727.83,271.30 L728.37,271.29 L728.90,271.29 L729.44,271.28 L729.97,271.27 L730.51,271.27 L731.05,271.26 L731.58,271.25 L732.12,271.24 L732.65,271.24 L733.19,271.23 L733.73,271.22 L734.26,271.22 L734.80,271.21 L735.33,271.20 L735.87,271.20 L736.41,271.19 L736.94,271.18 L737.48,271.17 L738.02,271.17 L738.55,271.16 L739.09,271.15 L739.62,271.15 L740.16,271.14 L740.70,271.13 L741.23,271.12 L741.77,271.12 L742.30,271.11 L742.84,271.10 L743.38,271.10 L743.91,271.09 L744.45,271.08 L744.98,271.07 L745.52,271.07 L746.06,271.06 L746.59,271.05 L747.13,271.04 L747.66,271.04 L748.20,271.03 L748.74,271.02 L749.27,271.01 L749.81,271.00 L750.34,271.00 L750.88,270.99 L751.42,270.98 L751.95,270.97 L752.49,270.96 L753.02,270.96 L753.56,270.95 L754.10,270.94 L754.63,270.93 L755.17,270.92 L755.70,270.92 L756.24,270.91 L756.78,270.90 L757.31,270.89 L757.85,270.88 L758.38,270.88 L758.92,270.87 L759.46,270.86 L759.99,270.85 L760.53,270.84 L761.06,270.84 L761.60,270.83 L762.14,270.82 L762.67,270.81 L763.21,270.80 L763.74,270.79 L764.28,270.79 L764.82,270.78 L765.35,270.77 L765.89,270.76 L766.42,270.75 L766.96,270.74 L767.50,270.74 L768.03,270.73 L768.57,270.72 L769.10,270.71 L769.64,270.70 L770.18,270.69 L770.71,270.69 L771.25,270.68 L771.78,270.67 L772.32,270.66 L772.86,270.65 L773.39,270.64 L773.93,270.63 L774.46,270.63 L775.00,270.62 L775.54,270.61 L776.07,270.60 L776.61,270.59 L777.14,270.58 L777.68,270.57 L778.22,270.57 L778.75,270.56 L779.29,270.55 L779.82,270.54 L780.36,270.53 L780.90,270.52 L781.43,270.51 L781.97,270.51 L782.50,270.50 L783.04,270.49 L783.58,270.48 L784.11,270.47 L784.65,270.46 L785.18,270.45 L785.72,270.44 L786.26,270.44 L786.79,270.43 L787.33,270.42 L787.86,270.41 L788.40,270.40" stroke="#000" stroke-width="1.3" fill="none"/>
<path d="M221.60,506.00 L221.60,504.16 L221.60,502.31 L221.60,500.47 L221.60,498.62 L221.60,496.78 L221.60,494.93 L221.60,493.09 L221.60,491.25 L221.61,489.40 L221.61,487.56 L221.61,485.71 L221.61,483.87 L221.61,482.02 L221.61,480.18 L221.61,478.33 L221.62,476.49 L221.62,474.65 L221.62,472.80 L221.62,470.96 L221.62,469.11 L221.63,467.27 L221.63,465.42 L221.63,463.58 L221.63,461.74 L221.63,459.89 L221.64,458.05 L221.64,456.20 L221.64,454.36 L221.65,452.51 L221.65,450.67 L221.65,448.83 L221.65,446.98 L221.66,445.14 L221.66,443.29 L221.66,441.45 L221.67,439.60 L221.67,437.76 L221.67,435.92 L221.68,434.07 L221.68,432.23 L221.68,430.38 L221.68,428.54 L221.69,426.69 L221.69,424.85 L221.69,423.00 L221.70,421.16 L221.70,419.32 L221.70,417.47 L221.71,415.63 L221.71,413.78 L221.72,411.94 L221.72,410.09 L221.72,408.25 L221.73,406.41 L221.73,404.56 L221.74,402.72 L221.74,400.87 L221.75,399.03 L221.75,397.18 L221.76,395.34 L221.76,393.50 L221.77,391.65 L221.77,389.81 L221.78,387.96 L221.79,386.12 L221.79,384.27 L221.80,382.43 L221.81,380.58 L221.81,378.74 L221.82,376.90 L221.83,375.05 L221.83,373.21 L221.84,371.36 L221.85,369.52 L221.86,367.67 L221.87,365.83 L221.87,363.99 L221.88,362.14 L221.89,360.30 L221.90,358.45 L221.91,356.61 L221.92,354.76 L221.93,352.92 L221.94,351.08 L221.95,349.23 L221.96,347.39 L221.97,345.54 L221.98,343.70 L221.99,341.85 L222.00,340.01 L222.01,338.17 L222.02,336.32 L222.04,334.48 L222.05,332.63 L222.07,330.79 L222.08,328.94 L222.10,327.10 L222.12,325.26 L222.14,323.41 L222.15,321.57 L222.17,319.72 L222.20,317.88 L222.22,316.03 L222.24,314.19 L222.26,312.35 L222.29,310.50 L222.31,308.66 L222.34,306.81 L222.36,304.97 L222.39,303.12 L222.42,301.28 L222.45,299.44 L222.47,297.59 L222.50,295.75 L222.53,293.90 L222.56,292.06 L222.60,290.22 L222.63,288.37 L222.66,286.53 L222.70,284.68 L222.74,282.84 L222.79,281.00 L222.83,279.15 L222.88,277.31 L222.93,275.46 L222.98,273.62 L223.04,271.78 L223.10,269.93 L223.16,268.09 L223.23,266.25 L223.30,264.41 L223.39,262.56 L223.48,260.72 L223.58,258.88 L223.69,257.04 L223.80,255.20 L223.91,253.36 L224.03,251.52 L224.14,249.68 L224.26,247.83 L224.37,245.99 L224.48,244.15 L224.58,242.31 L224.68,240.47 L224.77,238.63 L224.86,236.78 L224.95,234.94 L225.04,233.10 L225.12,231.25 L225.21,229.41 L225.30,227.57 L225.39,225.73 L225.48,223.88 L225.57,222.04 L225.68,220.20 L225.78,218.36 L225.90,216.52 L226.02,214.68 L226.15,212.84 L226.29,211.00 L226.43,209.16 L226.59,207.32 L226.76,205.48 L226.93,203.64 L227.13,201.81 L227.33,199.98 L227.55,198.15 L227.79,196.33 L228.08,194.51 L228.41,192.69 L228.77,190.88 L229.16,189.08 L229.57,187.27 L229.99,185.48 L230.41,183.68 L230.83,181.87 L231.27,180.06 L231.75,178.27 L232.27,176.50 L232.85,174.77 L233.51,173.05 L234.25,171.22 L235.10,169.40 L236.06,167.74 L237.14,166.36 L238.37,165.38 L239.99,164.52 L241.85,163.83 L243.72,163.51 L245.52,163.60 L247.37,163.95 L249.19,164.45 L250.94,165.01 L252.58,165.67 L254.16,166.55 L255.69,167.60 L257.19,168.76 L258.66,169.97 L260.11,171.16 L261.56,172.30 L262.99,173.46 L264.40,174.65 L265.79,175.87 L267.16,177.11 L268.52,178.36 L269.87,179.61 L271.22,180.88 L272.54,182.16 L273.85,183.46 L275.15,184.77 L276.44,186.08 L277.73,187.40 L279.03,188.72 L280.33,190.03 L281.62,191.35 L282.89,192.69 L284.17,194.04 L285.45,195.37 L286.75,196.69 L288.07,197.96 L289.43,199.19 L290.84,200.35 L292.30,201.46 L293.80,202.54 L295.33,203.59 L296.86,204.63 L298.39,205.67 L299.90,206.73 L301.40,207.81 L302.89,208.90 L304.38,209.99 L305.86,211.08 L307.35,212.17 L308.84,213.26 L310.34,214.34 L311.84,215.41 L313.35,216.47 L314.87,217.51 L316.39,218.55 L317.92,219.59 L319.45,220.65 L320.98,221.70 L322.51,222.76 L324.05,223.81 L325.59,224.85 L327.14,225.87 L328.70,226.88 L330.27,227.86 L331.85,228.81 L333.44,229.73 L335.04,230.62 L336.66,231.46 L338.29,232.25 L339.93,233.01 L341.59,233.76 L343.27,234.49 L344.95,235.20 L346.65,235.90 L348.36,236.59 L350.08,237.26 L351.81,237.92 L353.55,238.57 L355.29,239.20 L357.05,239.82 L358.81,240.43 L360.57,241.02 L362.34,241.59 L364.11,242.16 L365.89,242.71 L367.67,243.25 L369.44,243.77 L371.22,244.28 L373.00,244.78 L374.78,245.26 L376.56,245.73 L378.33,246.19 L380.11,246.64 L381.89,247.08 L383.68,247.52 L385.47,247.94 L387.27,248.36 L389.07,248.77 L390.87,249.17 L392.68,249.56 L394.49,249.95 L396.30,250.32 L398.11,250.69 L399.92,251.05 L401.74,251.40 L403.56,251.74 L405.38,252.07 L407.20,252.39 L409.02,252.71 L410.84,253.01 L412.66,253.31 L414.48,253.60 L416.30,253.88 L418.12,254.14 L419.95,254.39 L421.78,254.64 L423.60,254.87 L425.44,255.09 L427.27,255.31 L429.10,255.53 L430.94,255.74 L432.77,255.95 L434.60,256.17 L436.43,256.38 L438.27,256.59 L440.10,256.80 L441.93,257.01 L443.76,257.21 L445.60,257.41 L447.43,257.62 L449.26,257.81 L451.10,258.01 L452.93,258.20 L454.77,258.39 L456.60,258.57 L458.44,258.75 L460.27,258.93 L462.11,259.10 L463.95,259.28 L465.78,259.46 L467.62,259.63 L469.46,259.81 L471.29,259.99 L473.13,260.16 L474.97,260.33 L476.80,260.50 L478.64,260.66 L480.48,260.82 L482.32,260.97 L484.16,261.11 L486.00,261.25 L487.84,261.37 L489.68,261.49 L491.52,261.60 L493.36,261.70 L495.20,261.79 L497.04,261.87 L498.88,261.96 L500.72,262.03 L502.56,262.11 L504.41,262.18 L506.25,262.25 L508.09,262.32 L509.94,262.38 L511.78,262.45 L513.62,262.51 L515.47,262.57 L517.31,262.62 L519.15,262.68 L521.00,262.74 L522.84,262.79 L524.69,262.84 L526.53,262.90 L528.38,262.95 L530.22,263.01 L532.06,263.06 L533.91,263.12 L535.75,263.17 L537.59,263.23 L539.44,263.28 L541.28,263.34 L543.12,263.40 L544.97,263.45 L546.81,263.51 L548.66,263.57 L550.50,263.62 L552.34,263.68 L554.19,263.73 L556.03,263.79 L557.87,263.84 L559.72,263.89 L561.56,263.95 L563.40,264.00 L565.25,264.05 L567.09,264.09 L568.94,264.14 L570.78,264.19 L572.62,264.23 L574.47,264.28 L576.31,264.32 L578.15,264.36 L580.00,264.40 L581.84,264.44 L583.69,264.47 L585.53,264.51 L587.37,264.55 L589.22,264.58 L591.06,264.62 L592.91,264.65 L594.75,264.68 L596.59,264.72 L598.44,264.75 L600.28,264.78 L602.13,264.82 L603.97,264.85 L605.81,264.88 L607.66,264.91 L609.50,264.94 L611.35,264.96 L613.19,264.99 L615.04,265.02 L616.88,265.04 L618.72,265.07 L620.57,265.09 L622.41,265.12 L624.26,265.14 L626.10,265.16 L627.94,265.18 L629.79,265.20 L631.63,265.22 L633.48,265.23 L635.32,265.25 L637.17,265.27 L639.01,265.29 L640.85,265.30 L642.70,265.32 L644.54,265.34 L646.39,265.35 L648.23,265.37 L650.08,265.39 L651.92,265.40 L653.76,265.42 L655.61,265.43 L657.45,265.45 L659.30,265.46 L661.14,265.47 L662.99,265.49 L664.83,265.50 L666.67,265.51 L668.52,265.53 L670.36,265.54 L672.21,265.55 L674.05,265.56 L675.90,265.58 L677.74,265.59 L679.58,265.60 L681.43,265.61 L683.27,265.62 L685.12,265.63 L686.96,265.64 L688.81,265.65 L690.65,265.66 L692.49,265.67 L694.34,265.68 L696.18,265.68 L698.03,265.69 L699.87,265.70 L701.72,265.71 L703.56,265.71 L705.40,265.72 L707.25,265.73 L709.09,265.74 L710.94,265.74 L712.78,265.75 L714.63,265.76 L716.47,265.77 L718.32,265.77 L720.16,265.78 L722.00,265.79 L723.85,265.80 L725.69,265.80 L727.54,265.81 L729.38,265.82 L731.23,265.82 L733.07,265.83 L734.91,265.84 L736.76,265.84 L738.60,265.85 L740.45,265.85 L742.29,265.86 L744.14,265.87 L745.98,265.87 L747.82,265.88 L749.67,265.88 L751.51,265.89 L753.36,265.89 L755.20,265.90 L757.05,265.90 L758.89,265.91 L760.73,265.91 L762.58,265.92 L764.42,265.92 L766.27,265.92 L768.11,265.93 L769.96,265.93 L771.80,265.93 L773.65,265.94 L775.49,265.94 L777.33,265.94 L779.18,265.94 L781.02,265.94 L782.87,265.95 L784.71,265.95 L786.56,265.95 L788.40,265.95" stroke="#ff0000" stroke-width="2.5" stroke-dasharray="6.600,3.300" stroke-linejoin="round" fill="none"/>
<path d="M220.90,130.00 L222.30,412.00 L223.87,411.76 L225.43,411.47 L227.09,411.18 L228.75,410.85 L230.16,410.41 L231.20,409.69 L232.08,408.51 L232.85,407.02 L233.58,405.39 L234.29,403.80 L235.04,402.37 L235.79,400.97 L236.52,399.55 L237.24,398.14 L237.95,396.71 L238.65,395.29 L239.36,393.87 L240.05,392.44 L240.74,391.01 L241.42,389.57 L242.08,388.12 L242.71,386.67 L243.33,385.20 L243.94,383.74 L244.56,382.27 L245.20,380.82 L245.88,379.39 L246.59,377.97 L247.32,376.55 L248.04,375.14 L248.75,373.71 L249.42,372.28 L250.08,370.83 L250.72,369.38 L251.37,367.93 L252.03,366.48 L252.71,365.05 L253.42,363.62 L254.13,362.21 L254.86,360.79 L255.59,359.38 L256.32,357.97 L257.05,356.56 L257.79,355.15 L258.54,353.75 L259.29,352.35 L260.06,350.97 L260.85,349.59 L261.66,348.22 L262.48,346.86 L263.31,345.50 L264.13,344.14 L264.95,342.78 L265.77,341.42 L266.59,340.06 L267.42,338.70 L268.24,337.34 L269.05,335.98 L269.84,334.60 L270.62,333.21 L271.42,331.84 L272.27,330.50 L273.17,329.20 L274.13,327.94 L275.12,326.69 L276.13,325.46 L277.16,324.24 L278.18,323.02 L279.21,321.82 L280.25,320.62 L281.31,319.43 L282.37,318.24 L283.42,317.05 L284.45,315.84 L285.47,314.62 L286.50,313.41 L287.55,312.21 L288.64,311.06 L289.77,309.96 L290.95,308.90 L292.16,307.87 L293.39,306.85 L294.62,305.85 L295.85,304.84 L297.09,303.85 L298.34,302.87 L299.60,301.90 L300.86,300.93 L302.13,299.97 L303.39,299.01 L304.67,298.06 L305.95,297.12 L307.24,296.19 L308.54,295.29 L309.85,294.39 L311.18,293.50 L312.51,292.64 L313.86,291.80 L315.22,291.00 L316.61,290.22 L318.01,289.46 L319.42,288.72 L320.84,288.01 L322.27,287.33 L323.71,286.66 L325.17,286.03 L326.63,285.40 L328.10,284.79 L329.56,284.18 L331.03,283.57 L332.49,282.95 L333.96,282.34 L335.44,281.76 L336.93,281.22 L338.44,280.71 L339.95,280.23 L341.47,279.76 L343.00,279.32 L344.53,278.89 L346.06,278.47 L347.59,278.06 L349.13,277.67 L350.68,277.30 L352.22,276.93 L353.77,276.56 L355.32,276.20 L356.86,275.85 L358.42,275.50 L359.97,275.16 L361.52,274.83 L363.07,274.50 L364.63,274.17 L366.19,273.85 L367.74,273.54 L369.31,273.25 L370.87,272.98 L372.44,272.72 L374.01,272.47 L375.58,272.24 L377.15,272.02 L378.73,271.80 L380.30,271.61 L381.88,271.42 L383.46,271.24 L385.04,271.06 L386.62,270.89 L388.19,270.71 L389.77,270.53 L391.35,270.36 L392.93,270.19 L394.51,270.04 L396.09,269.89 L397.68,269.75 L399.26,269.61 L400.84,269.48 L402.43,269.37 L404.01,269.26 L405.60,269.17 L407.18,269.08 L408.77,269.00 L410.36,268.92 L411.94,268.84 L413.53,268.75 L415.12,268.66 L416.70,268.57 L418.29,268.48 L419.87,268.39 L421.46,268.32 L423.05,268.26 L424.64,268.20 L426.22,268.15 L427.81,268.10 L429.40,268.05 L430.99,268.01 L432.57,267.96 L434.16,267.92 L435.75,267.88 L437.34,267.84 L438.93,267.80 L440.51,267.76 L442.10,267.73 L443.69,267.69 L445.28,267.66 L446.87,267.62 L448.46,267.59 L450.04,267.56 L451.63,267.53 L453.22,267.49 L454.81,267.46 L456.40,267.43 L457.99,267.40 L459.57,267.38 L461.16,267.35 L462.75,267.33 L464.34,267.31 L465.93,267.29 L467.52,267.27 L469.10,267.26 L470.69,267.24 L472.28,267.22 L473.87,267.21 L475.46,267.19 L477.05,267.18 L478.63,267.17 L480.22,267.15 L481.81,267.14 L483.40,267.13 L484.99,267.12 L486.58,267.11 L488.17,267.09 L489.75,267.08 L491.34,267.07 L492.93,267.06 L494.52,267.05 L496.11,267.04 L497.70,267.03 L499.29,267.02 L500.87,267.01 L502.46,267.00 L504.05,266.99 L505.64,266.98 L507.23,266.97 L508.82,266.97 L510.41,266.96 L511.99,266.95 L513.58,266.94 L515.17,266.93 L516.76,266.92 L518.35,266.91 L519.94,266.90 L521.52,266.89 L523.11,266.88 L524.70,266.87 L526.29,266.86 L527.88,266.85 L529.47,266.84 L531.06,266.83 L532.64,266.82 L534.23,266.81 L535.82,266.80 L537.41,266.79 L539.00,266.78 L540.59,266.77 L542.18,266.76 L543.76,266.75 L545.35,266.74 L546.94,266.74 L548.53,266.73 L550.12,266.72 L551.71,266.71 L553.30,266.70 L554.88,266.69 L556.47,266.68 L558.06,266.67 L559.65,266.66 L561.24,266.65 L562.83,266.64 L564.42,266.64 L566.00,266.63 L567.59,266.62 L569.18,266.61 L570.77,266.60 L572.36,266.60 L573.95,266.59 L575.53,266.58 L577.12,266.57 L578.71,266.57 L580.30,266.56 L581.89,266.55 L583.48,266.55 L585.07,266.54 L586.65,266.54 L588.24,266.53 L589.83,266.53 L591.42,266.52 L593.01,266.52 L594.60,266.51 L596.19,266.51 L597.77,266.50 L599.36,266.50 L600.95,266.50 L602.54,266.50 L604.13,266.49 L605.72,266.49 L607.31,266.49 L608.89,266.48 L610.48,266.48 L612.07,266.48 L613.66,266.47 L615.25,266.47 L616.84,266.47 L618.43,266.47 L620.01,266.46 L621.60,266.46 L623.19,266.46 L624.78,266.45 L626.37,266.45 L627.96,266.45 L629.55,266.45 L631.13,266.44 L632.72,266.44 L634.31,266.44 L635.90,266.44 L637.49,266.43 L639.08,266.43 L640.66,266.43 L642.25,266.43 L643.84,266.42 L645.43,266.42 L647.02,266.42 L648.61,266.42 L650.20,266.41 L651.78,266.41 L653.37,266.41 L654.96,266.41 L656.55,266.40 L658.14,266.40 L659.73,266.40 L661.32,266.40 L662.90,266.39 L664.49,266.39 L666.08,266.39 L667.67,266.39 L669.26,266.39 L670.85,266.38 L672.44,266.38 L674.02,266.38 L675.61,266.38 L677.20,266.38 L678.79,266.37 L680.38,266.37 L681.97,266.37 L683.56,266.37 L685.14,266.37 L686.73,266.36 L688.32,266.36 L689.91,266.36 L691.50,266.36 L693.09,266.36 L694.68,266.35 L696.26,266.35 L697.85,266.35 L699.44,266.35 L701.03,266.35 L702.62,266.35 L704.21,266.34 L705.80,266.34 L707.38,266.34 L708.97,266.34 L710.56,266.34 L712.15,266.34 L713.74,266.34 L715.33,266.33 L716.92,266.33 L718.50,266.33 L720.09,266.33 L721.68,266.33 L723.27,266.33 L724.86,266.33 L726.45,266.32 L728.03,266.32 L729.62,266.32 L731.21,266.32 L732.80,266.32 L734.39,266.32 L735.98,266.32 L737.57,266.32 L739.15,266.32 L740.74,266.31 L742.33,266.31 L743.92,266.31 L745.51,266.31 L747.10,266.31 L748.69,266.31 L750.27,266.31 L751.86,266.31 L753.45,266.31 L755.04,266.31 L756.63,266.31 L758.22,266.31 L759.81,266.31 L761.39,266.30 L762.98,266.30 L764.57,266.30 L766.16,266.30 L767.75,266.30 L769.34,266.30 L770.93,266.30 L772.51,266.30 L774.10,266.30 L775.69,266.30 L777.28,266.30 L778.87,266.30 L780.46,266.30 L782.05,266.30 L783.63,266.30 L785.22,266.30 L786.81,266.30 L788.40,266.30" stroke="#00ff00" stroke-width="2.5" stroke-dasharray="3.300,4.950" stroke-linejoin="round" fill="none"/>
<path d="M221.30,222.00 L221.50,128.50 L223.30,120.20 L224.05,121.64 L224.76,123.10 L225.42,124.58 L226.02,126.08 L226.56,127.60 L227.07,129.14 L227.55,130.69 L228.02,132.24 L228.48,133.80 L228.96,135.35 L229.42,136.90 L229.88,138.46 L230.32,140.01 L230.76,141.57 L231.20,143.13 L231.65,144.69 L232.10,146.25 L232.55,147.80 L233.02,149.35 L233.51,150.90 L234.01,152.44 L234.54,153.96 L235.10,155.49 L235.67,157.00 L236.24,158.52 L236.81,160.04 L237.38,161.56 L237.92,163.08 L238.45,164.61 L238.96,166.15 L239.47,167.69 L239.97,169.23 L240.48,170.77 L240.99,172.31 L241.51,173.84 L242.04,175.37 L242.58,176.90 L243.12,178.43 L243.67,179.95 L244.23,181.48 L244.80,182.99 L245.40,184.50 L246.01,185.99 L246.64,187.48 L247.29,188.97 L247.95,190.45 L248.63,191.92 L249.33,193.39 L250.03,194.85 L250.75,196.30 L251.48,197.74 L252.24,199.17 L253.01,200.60 L253.79,202.02 L254.58,203.44 L255.37,204.85 L256.16,206.27 L256.94,207.68 L257.72,209.11 L258.49,210.54 L259.26,211.97 L260.05,213.40 L260.85,214.81 L261.66,216.21 L262.51,217.58 L263.39,218.93 L264.30,220.25 L265.25,221.56 L266.23,222.85 L267.23,224.13 L268.25,225.39 L269.29,226.64 L270.34,227.89 L271.39,229.12 L272.45,230.35 L273.50,231.59 L274.56,232.82 L275.63,234.05 L276.71,235.27 L277.81,236.47 L278.93,237.63 L280.08,238.76 L281.27,239.85 L282.48,240.90 L283.74,241.93 L285.03,242.93 L286.34,243.90 L287.68,244.83 L289.03,245.72 L290.40,246.56 L291.79,247.37 L293.21,248.15 L294.65,248.91 L296.10,249.64 L297.57,250.34 L299.05,251.02 L300.54,251.67 L302.02,252.30 L303.52,252.92 L305.03,253.51 L306.56,254.07 L308.09,254.60 L309.63,255.09 L311.19,255.54 L312.75,255.96 L314.32,256.36 L315.90,256.73 L317.49,257.08 L319.07,257.41 L320.66,257.73 L322.25,258.03 L323.84,258.32 L325.44,258.59 L327.04,258.86 L328.64,259.12 L330.24,259.37 L331.84,259.61 L333.45,259.85 L335.05,260.09 L336.65,260.32 L338.26,260.55 L339.86,260.78 L341.47,261.01 L343.07,261.24 L344.67,261.47 L346.28,261.69 L347.89,261.91 L349.49,262.12 L351.10,262.33 L352.71,262.53 L354.32,262.72 L355.93,262.90 L357.54,263.07 L359.15,263.24 L360.76,263.40 L362.37,263.55 L363.98,263.70 L365.60,263.85 L367.21,263.99 L368.83,264.13 L370.44,264.26 L372.06,264.38 L373.68,264.49 L375.29,264.60 L376.91,264.69 L378.53,264.78 L380.14,264.86 L381.76,264.94 L383.38,265.02 L385.00,265.09 L386.62,265.17 L388.24,265.23 L389.86,265.30 L391.48,265.36 L393.10,265.41 L394.71,265.47 L396.33,265.51 L397.95,265.55 L399.57,265.59 L401.19,265.62 L402.81,265.66 L404.43,265.69 L406.05,265.72 L407.67,265.75 L409.29,265.78 L410.91,265.80 L412.53,265.83 L414.15,265.86 L415.77,265.88 L417.39,265.90 L419.01,265.92 L420.63,265.94 L422.25,265.96 L423.87,265.97 L425.49,265.98 L427.11,265.99 L428.73,266.00 L430.35,266.00 L431.97,266.00 L433.59,266.01 L435.21,266.01 L436.83,266.01 L438.45,266.02 L440.07,266.02 L441.69,266.02 L443.31,266.03 L444.93,266.03 L446.55,266.03 L448.17,266.04 L449.79,266.04 L451.41,266.04 L453.03,266.05 L454.65,266.05 L456.27,266.05 L457.89,266.05 L459.51,266.06 L461.13,266.06 L462.75,266.06 L464.37,266.07 L465.99,266.07 L467.61,266.07 L469.23,266.08 L470.85,266.08 L472.47,266.08 L474.09,266.08 L475.71,266.09 L477.33,266.09 L478.95,266.09 L480.57,266.09 L482.19,266.10 L483.81,266.10 L485.43,266.10 L487.05,266.10 L488.67,266.11 L490.29,266.11 L491.91,266.11 L493.53,266.12 L495.15,266.12 L496.77,266.12 L498.39,266.12 L500.01,266.12 L501.63,266.13 L503.26,266.13 L504.88,266.13 L506.50,266.13 L508.12,266.14 L509.74,266.14 L511.36,266.14 L512.98,266.14 L514.60,266.15 L516.22,266.15 L517.84,266.15 L519.46,266.15 L521.08,266.15 L522.70,266.16 L524.32,266.16 L525.94,266.16 L527.56,266.16 L529.18,266.16 L530.80,266.17 L532.42,266.17 L534.04,266.17 L535.66,266.17 L537.28,266.17 L538.90,266.18 L540.52,266.18 L542.14,266.18 L543.76,266.18 L545.38,266.18 L547.00,266.19 L548.62,266.19 L550.24,266.19 L551.86,266.19 L553.48,266.19 L555.10,266.20 L556.72,266.20 L558.34,266.20 L559.96,266.20 L561.58,266.20 L563.20,266.20 L564.82,266.21 L566.44,266.21 L568.06,266.21 L569.68,266.21 L571.30,266.21 L572.92,266.21 L574.54,266.21 L576.16,266.22 L577.78,266.22 L579.40,266.22 L581.02,266.22 L582.64,266.22 L584.26,266.22 L585.88,266.23 L587.50,266.23 L589.12,266.23 L590.74,266.23 L592.36,266.23 L593.98,266.23 L595.60,266.23 L597.22,266.23 L598.84,266.24 L600.46,266.24 L602.08,266.24 L603.70,266.24 L605.32,266.24 L606.94,266.24 L608.56,266.24 L610.18,266.24 L611.80,266.25 L613.42,266.25 L615.04,266.25 L616.66,266.25 L618.28,266.25 L619.90,266.25 L621.52,266.25 L623.14,266.25 L624.76,266.25 L626.38,266.26 L628.00,266.26 L629.62,266.26 L631.24,266.26 L632.86,266.26 L634.48,266.26 L636.10,266.26 L637.72,266.26 L639.34,266.26 L640.96,266.26 L642.58,266.27 L644.20,266.27 L645.82,266.27 L647.44,266.27 L649.06,266.27 L650.68,266.27 L652.30,266.27 L653.92,266.27 L655.54,266.27 L657.16,266.27 L658.78,266.27 L660.40,266.27 L662.02,266.27 L663.64,266.28 L665.26,266.28 L666.89,266.28 L668.51,266.28 L670.13,266.28 L671.75,266.28 L673.37,266.28 L674.99,266.28 L676.61,266.28 L678.23,266.28 L679.85,266.28 L681.47,266.28 L683.09,266.28 L684.71,266.28 L686.33,266.28 L687.95,266.28 L689.57,266.29 L691.19,266.29 L692.81,266.29 L694.43,266.29 L696.05,266.29 L697.67,266.29 L699.29,266.29 L700.91,266.29 L702.53,266.29 L704.15,266.29 L705.77,266.29 L707.39,266.29 L709.01,266.29 L710.63,266.29 L712.25,266.29 L713.87,266.29 L715.49,266.29 L717.11,266.29 L718.73,266.29 L720.35,266.29 L721.97,266.29 L723.59,266.29 L725.21,266.29 L726.83,266.29 L728.45,266.30 L730.07,266.30 L731.69,266.30 L733.31,266.30 L734.93,266.30 L736.55,266.30 L738.17,266.30 L739.79,266.30 L741.41,266.30 L743.03,266.30 L744.65,266.30 L746.27,266.30 L747.89,266.30 L749.51,266.30 L751.13,266.30 L752.75,266.30 L754.38,266.30 L756.00,266.30 L757.62,266.30 L759.24,266.30 L760.86,266.30 L762.48,266.30 L764.10,266.30 L765.72,266.30 L767.34,266.30 L768.96,266.30 L770.58,266.30 L772.20,266.30 L773.82,266.30 L775.44,266.30 L777.06,266.30 L778.68,266.30 L780.30,266.30 L781.92,266.30 L783.54,266.30 L785.16,266.30 L786.78,266.30 L788.40,266.30" stroke="#0000ff" stroke-width="2.5" stroke-dasharray="1.650,2.475" stroke-linejoin="round" fill="none"/>
<path d="M221.20,339.70 L222.30,374.30 L222.82,372.82 L223.33,371.34 L223.84,369.85 L224.34,368.37 L224.84,366.88 L225.34,365.39 L225.83,363.90 L226.31,362.41 L226.78,360.92 L227.23,359.41 L227.67,357.91 L228.13,356.41 L228.62,354.92 L229.12,353.43 L229.64,351.95 L230.16,350.47 L230.67,348.99 L231.16,347.50 L231.64,346.01 L232.11,344.51 L232.58,343.01 L233.05,341.52 L233.53,340.02 L234.02,338.53 L234.51,337.04 L235.00,335.55 L235.51,334.07 L236.03,332.59 L236.57,331.12 L237.13,329.66 L237.71,328.20 L238.32,326.76 L238.95,325.32 L239.58,323.88 L240.23,322.45 L240.89,321.03 L241.56,319.61 L242.22,318.19 L242.90,316.77 L243.59,315.36 L244.29,313.95 L245.00,312.56 L245.74,311.17 L246.50,309.80 L247.28,308.45 L248.09,307.11 L248.92,305.77 L249.77,304.45 L250.64,303.14 L251.52,301.85 L252.41,300.56 L253.31,299.26 L254.23,297.98 L255.18,296.72 L256.16,295.51 L257.20,294.36 L258.30,293.25 L259.44,292.17 L260.62,291.12 L261.82,290.10 L263.03,289.10 L264.25,288.11 L265.48,287.15 L266.74,286.20 L268.01,285.27 L269.29,284.37 L270.60,283.50 L271.91,282.66 L273.25,281.84 L274.61,281.04 L275.98,280.27 L277.36,279.53 L278.75,278.81 L280.15,278.11 L281.57,277.44 L283.00,276.78 L284.44,276.15 L285.89,275.56 L287.35,275.00 L288.82,274.46 L290.31,273.94 L291.80,273.45 L293.30,273.00 L294.81,272.57 L296.32,272.17 L297.84,271.79 L299.37,271.43 L300.91,271.09 L302.44,270.77 L303.98,270.47 L305.53,270.20 L307.07,269.95 L308.62,269.72 L310.18,269.49 L311.73,269.28 L313.29,269.09 L314.85,268.90 L316.40,268.71 L317.96,268.54 L319.52,268.37 L321.09,268.22 L322.65,268.08 L324.21,267.96 L325.77,267.86 L327.34,267.76 L328.90,267.66 L330.47,267.57 L332.04,267.49 L333.60,267.41 L335.17,267.34 L336.74,267.27 L338.31,267.21 L339.87,267.15 L341.44,267.10 L343.01,267.04 L344.57,266.98 L346.14,266.93 L347.71,266.88 L349.28,266.83 L350.85,266.79 L352.41,266.75 L353.98,266.71 L355.55,266.67 L357.12,266.64 L358.69,266.62 L360.25,266.60 L361.82,266.58 L363.39,266.56 L364.96,266.54 L366.53,266.52 L368.09,266.50 L369.66,266.49 L371.23,266.47 L372.80,266.45 L374.37,266.44 L375.93,266.42 L377.50,266.41 L379.07,266.39 L380.64,266.38 L382.21,266.37 L383.78,266.36 L385.34,266.35 L386.91,266.34 L388.48,266.33 L390.05,266.32 L391.62,266.32 L393.19,266.31 L394.75,266.31 L396.32,266.30 L397.89,266.30 L399.46,266.30 L401.03,266.30 L402.60,266.30 L404.16,266.30 L405.73,266.30 L407.30,266.30 L408.87,266.30 L410.44,266.30 L412.01,266.30 L413.57,266.30 L415.14,266.30 L416.71,266.30 L418.28,266.30 L419.85,266.30 L421.42,266.30 L422.98,266.30 L424.55,266.30 L426.12,266.30 L427.69,266.30 L429.26,266.30 L430.83,266.30 L432.39,266.30 L433.96,266.30 L435.53,266.30 L437.10,266.30 L438.67,266.30 L440.24,266.30 L441.80,266.30 L443.37,266.30 L444.94,266.30 L446.51,266.30 L448.08,266.30 L449.64,266.30 L451.21,266.30 L452.78,266.30 L454.35,266.30 L455.92,266.30 L457.49,266.30 L459.05,266.30 L460.62,266.30 L462.19,266.30 L463.76,266.30 L465.33,266.30 L466.90,266.30 L468.46,266.30 L470.03,266.30 L471.60,266.30 L473.17,266.30 L474.74,266.30 L476.31,266.30 L477.87,266.30 L479.44,266.30 L481.01,266.30 L482.58,266.30 L484.15,266.30 L485.72,266.30 L487.28,266.30 L488.85,266.30 L490.42,266.30 L491.99,266.30 L493.56,266.30 L495.13,266.30 L496.69,266.30 L498.26,266.30 L499.83,266.30 L501.40,266.30 L502.97,266.30 L504.53,266.30 L506.10,266.30 L507.67,266.30 L509.24,266.30 L510.81,266.30 L512.38,266.30 L513.94,266.30 L515.51,266.30 L517.08,266.30 L518.65,266.30 L520.22,266.30 L521.79,266.30 L523.35,266.30 L524.92,266.30 L526.49,266.30 L528.06,266.30 L529.63,266.30 L531.20,266.30 L532.76,266.30 L534.33,266.30 L535.90,266.30 L537.47,266.30 L539.04,266.30 L540.61,266.30 L542.17,266.30 L543.74,266.30 L545.31,266.30 L546.88,266.30 L548.45,266.30 L550.02,266.30 L551.58,266.30 L553.15,266.30 L554.72,266.30 L556.29,266.30 L557.86,266.30 L559.43,266.30 L560.99,266.30 L562.56,266.30 L564.13,266.30 L565.70,266.30 L567.27,266.30 L568.84,266.30 L570.40,266.30 L571.97,266.30 L573.54,266.30 L575.11,266.30 L576.68,266.30 L578.24,266.30 L579.81,266.30 L581.38,266.30 L582.95,266.30 L584.52,266.30 L586.09,266.30 L587.65,266.30 L589.22,266.30 L590.79,266.30 L592.36,266.30 L593.93,266.30 L595.50,266.30 L597.06,266.30 L598.63,266.30 L600.20,266.30 L601.77,266.30 L603.34,266.30 L604.91,266.30 L606.47,266.30 L608.04,266.30 L609.61,266.30 L611.18,266.30 L612.75,266.30 L614.32,266.30 L615.88,266.30 L617.45,266.30 L619.02,266.30 L620.59,266.30 L622.16,266.30 L623.73,266.30 L625.29,266.30 L626.86,266.30 L628.43,266.30 L630.00,266.30 L631.57,266.30 L633.14,266.30 L634.70,266.30 L636.27,266.30 L637.84,266.30 L639.41,266.30 L640.98,266.30 L642.55,266.30 L644.11,266.30 L645.68,266.30 L647.25,266.30 L648.82,266.30 L650.39,266.30 L651.96,266.30 L653.52,266.30 L655.09,266.30 L656.66,266.30 L658.23,266.30 L659.80,266.30 L661.37,266.30 L662.93,266.30 L664.50,266.30 L666.07,266.30 L667.64,266.30 L669.21,266.30 L670.78,266.30 L672.34,266.30 L673.91,266.30 L675.48,266.30 L677.05,266.30 L678.62,266.30 L680.18,266.30 L681.75,266.30 L683.32,266.30 L684.89,266.30 L686.46,266.30 L688.03,266.30 L689.59,266.30 L691.16,266.30 L692.73,266.30 L694.30,266.30 L695.87,266.30 L697.44,266.30 L699.00,266.30 L700.57,266.30 L702.14,266.30 L703.71,266.30 L705.28,266.30 L706.85,266.30 L708.41,266.30 L709.98,266.30 L711.55,266.30 L713.12,266.30 L714.69,266.30 L716.26,266.30 L717.82,266.30 L719.39,266.30 L720.96,266.30 L722.53,266.30 L724.10,266.30 L725.67,266.30 L727.23,266.30 L728.80,266.30 L730.37,266.30 L731.94,266.30 L733.51,266.30 L735.08,266.30 L736.64,266.30 L738.21,266.30 L739.78,266.30 L741.35,266.30 L742.92,266.30 L744.49,266.30 L746.05,266.30 L747.62,266.30 L749.19,266.30 L750.76,266.30 L752.33,266.30 L753.90,266.30 L755.46,266.30 L757.03,266.30 L758.60,266.30 L760.17,266.30 L761.74,266.30 L763.31,266.30 L764.87,266.30 L766.44,266.30 L768.01,266.30 L769.58,266.30 L771.15,266.30 L772.72,266.30 L774.28,266.30 L775.85,266.30 L777.42,266.30 L778.99,266.30 L780.56,266.30 L782.13,266.30 L783.69,266.30 L785.26,266.30 L786.83,266.30 L788.40,266.30" stroke="#ff00ff" stroke-width="2.5" stroke-dasharray="9.900,3.300,1.650,3.300" stroke-linejoin="miter" fill="none"/>
<path d="M221.40,224.00 L222.20,196.80 L222.77,198.19 L223.34,199.59 L223.92,200.98 L224.50,202.37 L225.08,203.76 L225.66,205.15 L226.25,206.54 L226.84,207.93 L227.43,209.31 L228.02,210.70 L228.61,212.09 L229.20,213.47 L229.78,214.86 L230.35,216.26 L230.93,217.65 L231.51,219.04 L232.10,220.43 L232.69,221.81 L233.30,223.19 L233.90,224.58 L234.52,225.95 L235.15,227.32 L235.80,228.68 L236.47,230.03 L237.16,231.37 L237.88,232.69 L238.62,234.01 L239.38,235.31 L240.16,236.59 L240.96,237.88 L241.78,239.16 L242.63,240.41 L243.51,241.62 L244.44,242.79 L245.42,243.93 L246.45,245.04 L247.52,246.12 L248.61,247.16 L249.74,248.17 L250.88,249.15 L252.04,250.09 L253.24,251.01 L254.48,251.89 L255.73,252.75 L257.00,253.56 L258.29,254.32 L259.60,255.05 L260.94,255.75 L262.30,256.41 L263.67,257.05 L265.04,257.67 L266.41,258.30 L267.79,258.93 L269.18,259.55 L270.57,260.15 L271.97,260.71 L273.39,261.22 L274.82,261.67 L276.26,262.04 L277.71,262.40 L279.19,262.73 L280.67,263.03 L282.16,263.31 L283.65,263.56 L285.15,263.78 L286.64,263.97 L288.14,264.13 L289.63,264.28 L291.13,264.42 L292.63,264.55 L294.14,264.67 L295.64,264.78 L297.15,264.87 L298.66,264.96 L300.16,265.04 L301.67,265.12 L303.17,265.19 L304.68,265.26 L306.18,265.32 L307.69,265.39 L309.19,265.46 L310.70,265.52 L312.20,265.58 L313.71,265.64 L315.22,265.70 L316.72,265.75 L318.23,265.80 L319.74,265.84 L321.24,265.88 L322.75,265.91 L324.26,265.94 L325.77,265.97 L327.27,265.98 L328.78,266.00 L330.29,266.00 L331.79,266.00 L333.30,266.01 L334.80,266.01 L336.31,266.01 L337.82,266.01 L339.32,266.02 L340.83,266.02 L342.34,266.02 L343.84,266.02 L345.35,266.03 L346.86,266.03 L348.36,266.03 L349.87,266.03 L351.38,266.04 L352.88,266.04 L354.39,266.04 L355.90,266.04 L357.40,266.05 L358.91,266.05 L360.42,266.05 L361.92,266.05 L363.43,266.06 L364.93,266.06 L366.44,266.06 L367.95,266.06 L369.45,266.07 L370.96,266.07 L372.47,266.07 L373.97,266.07 L375.48,266.07 L376.99,266.08 L378.49,266.08 L380.00,266.08 L381.51,266.08 L383.01,266.09 L384.52,266.09 L386.03,266.09 L387.53,266.09 L389.04,266.09 L390.55,266.10 L392.05,266.10 L393.56,266.10 L395.07,266.10 L396.57,266.10 L398.08,266.11 L399.59,266.11 L401.09,266.11 L402.60,266.11 L404.11,266.11 L405.61,266.12 L407.12,266.12 L408.62,266.12 L410.13,266.12 L411.64,266.12 L413.14,266.13 L414.65,266.13 L416.16,266.13 L417.66,266.13 L419.17,266.13 L420.68,266.13 L422.18,266.14 L423.69,266.14 L425.20,266.14 L426.70,266.14 L428.21,266.14 L429.72,266.15 L431.22,266.15 L432.73,266.15 L434.24,266.15 L435.74,266.15 L437.25,266.15 L438.76,266.16 L440.26,266.16 L441.77,266.16 L443.28,266.16 L444.78,266.16 L446.29,266.16 L447.80,266.17 L449.30,266.17 L450.81,266.17 L452.32,266.17 L453.82,266.17 L455.33,266.17 L456.84,266.17 L458.34,266.18 L459.85,266.18 L461.36,266.18 L462.86,266.18 L464.37,266.18 L465.88,266.18 L467.38,266.19 L468.89,266.19 L470.40,266.19 L471.90,266.19 L473.41,266.19 L474.92,266.19 L476.42,266.19 L477.93,266.19 L479.44,266.20 L480.94,266.20 L482.45,266.20 L483.96,266.20 L485.46,266.20 L486.97,266.20 L488.48,266.20 L489.98,266.21 L491.49,266.21 L493.00,266.21 L494.50,266.21 L496.01,266.21 L497.52,266.21 L499.02,266.21 L500.53,266.21 L502.04,266.21 L503.55,266.22 L505.05,266.22 L506.56,266.22 L508.07,266.22 L509.57,266.22 L511.08,266.22 L512.59,266.22 L514.09,266.22 L515.60,266.23 L517.11,266.23 L518.61,266.23 L520.12,266.23 L521.63,266.23 L523.13,266.23 L524.64,266.23 L526.15,266.23 L527.65,266.23 L529.16,266.23 L530.67,266.24 L532.17,266.24 L533.68,266.24 L535.19,266.24 L536.69,266.24 L538.20,266.24 L539.71,266.24 L541.22,266.24 L542.72,266.24 L544.23,266.24 L545.74,266.24 L547.24,266.25 L548.75,266.25 L550.26,266.25 L551.76,266.25 L553.27,266.25 L554.78,266.25 L556.28,266.25 L557.79,266.25 L559.30,266.25 L560.80,266.25 L562.31,266.25 L563.82,266.25 L565.33,266.26 L566.83,266.26 L568.34,266.26 L569.85,266.26 L571.35,266.26 L572.86,266.26 L574.37,266.26 L575.87,266.26 L577.38,266.26 L578.89,266.26 L580.40,266.26 L581.90,266.26 L583.41,266.26 L584.92,266.26 L586.42,266.27 L587.93,266.27 L589.44,266.27 L590.94,266.27 L592.45,266.27 L593.96,266.27 L595.46,266.27 L596.97,266.27 L598.48,266.27 L599.99,266.27 L601.49,266.27 L603.00,266.27 L604.51,266.27 L606.01,266.27 L607.52,266.27 L609.03,266.27 L610.54,266.27 L612.04,266.28 L613.55,266.28 L615.06,266.28 L616.56,266.28 L618.07,266.28 L619.58,266.28 L621.08,266.28 L622.59,266.28 L624.10,266.28 L625.61,266.28 L627.11,266.28 L628.62,266.28 L630.13,266.28 L631.63,266.28 L633.14,266.28 L634.65,266.28 L636.16,266.28 L637.66,266.28 L639.17,266.28 L640.68,266.28 L642.18,266.28 L643.69,266.29 L645.20,266.29 L646.71,266.29 L648.21,266.29 L649.72,266.29 L651.23,266.29 L652.73,266.29 L654.24,266.29 L655.75,266.29 L657.26,266.29 L658.76,266.29 L660.27,266.29 L661.78,266.29 L663.28,266.29 L664.79,266.29 L666.30,266.29 L667.81,266.29 L669.31,266.29 L670.82,266.29 L672.33,266.29 L673.83,266.29 L675.34,266.29 L676.85,266.29 L678.36,266.29 L679.86,266.29 L681.37,266.29 L682.88,266.29 L684.39,266.29 L685.89,266.29 L687.40,266.29 L688.91,266.29 L690.41,266.29 L691.92,266.29 L693.43,266.29 L694.94,266.29 L696.44,266.29 L697.95,266.30 L699.46,266.30 L700.97,266.30 L702.47,266.30 L703.98,266.30 L705.49,266.30 L707.00,266.30 L708.50,266.30 L710.01,266.30 L711.52,266.30 L713.02,266.30 L714.53,266.30 L716.04,266.30 L717.55,266.30 L719.05,266.30 L720.56,266.30 L722.07,266.30 L723.58,266.30 L725.08,266.30 L726.59,266.30 L728.10,266.30 L729.61,266.30 L731.11,266.30 L732.62,266.30 L734.13,266.30 L735.64,266.30 L737.14,266.30 L738.65,266.30 L740.16,266.30 L741.67,266.30 L743.17,266.30 L744.68,266.30 L746.19,266.30 L747.70,266.30 L749.20,266.30 L750.71,266.30 L752.22,266.30 L753.73,266.30 L755.23,266.30 L756.74,266.30 L758.25,266.30 L759.76,266.30 L761.26,266.30 L762.77,266.30 L764.28,266.30 L765.79,266.30 L767.29,266.30 L768.80,266.30 L770.31,266.30 L771.82,266.30 L773.32,266.30 L774.83,266.30 L776.34,266.30 L777.85,266.30 L779.35,266.30 L780.86,266.30 L782.37,266.30 L783.88,266.30 L785.38,266.30 L786.89,266.30 L788.40,266.30" stroke="#00ffff" stroke-width="2.5" stroke-dasharray="4.950,4.950,1.650,4.950" stroke-linejoin="round" fill="none"/>
<path d="M221.20,290.00 L222.00,305.20 L222.71,303.92 L223.44,302.66 L224.19,301.40 L224.95,300.16 L225.73,298.92 L226.52,297.70 L227.32,296.48 L228.13,295.27 L228.95,294.07 L229.79,292.88 L230.64,291.70 L231.52,290.53 L232.42,289.38 L233.34,288.25 L234.26,287.12 L235.19,285.97 L236.13,284.82 L237.09,283.68 L238.06,282.57 L239.07,281.50 L240.10,280.49 L241.17,279.55 L242.29,278.69 L243.49,277.90 L244.75,277.17 L246.06,276.48 L247.39,275.83 L248.71,275.20 L250.02,274.58 L251.35,273.98 L252.69,273.38 L254.04,272.81 L255.40,272.27 L256.77,271.76 L258.15,271.29 L259.53,270.86 L260.93,270.46 L262.34,270.08 L263.76,269.73 L265.19,269.43 L266.63,269.20 L268.07,269.01 L269.51,268.85 L270.96,268.70 L272.41,268.57 L273.87,268.45 L275.33,268.34 L276.78,268.23 L278.24,268.11 L279.69,267.99 L281.14,267.86 L282.60,267.73 L284.05,267.60 L285.50,267.49 L286.96,267.40 L288.41,267.31 L289.87,267.23 L291.32,267.15 L292.78,267.07 L294.23,266.99 L295.69,266.92 L297.15,266.85 L298.60,266.78 L300.06,266.72 L301.52,266.67 L302.98,266.62 L304.43,266.58 L305.89,266.54 L307.35,266.52 L308.81,266.50 L310.26,266.50 L311.72,266.50 L313.18,266.50 L314.63,266.49 L316.09,266.49 L317.55,266.49 L319.01,266.49 L320.46,266.49 L321.92,266.49 L323.38,266.48 L324.83,266.48 L326.29,266.48 L327.75,266.48 L329.20,266.48 L330.66,266.48 L332.12,266.48 L333.58,266.47 L335.03,266.47 L336.49,266.47 L337.95,266.47 L339.40,266.47 L340.86,266.47 L342.32,266.46 L343.77,266.46 L345.23,266.46 L346.69,266.46 L348.15,266.46 L349.60,266.46 L351.06,266.46 L352.52,266.45 L353.97,266.45 L355.43,266.45 L356.89,266.45 L358.35,266.45 L359.80,266.45 L361.26,266.45 L362.72,266.44 L364.17,266.44 L365.63,266.44 L367.09,266.44 L368.55,266.44 L370.00,266.44 L371.46,266.44 L372.92,266.43 L374.37,266.43 L375.83,266.43 L377.29,266.43 L378.75,266.43 L380.20,266.43 L381.66,266.43 L383.12,266.43 L384.57,266.42 L386.03,266.42 L387.49,266.42 L388.95,266.42 L390.40,266.42 L391.86,266.42 L393.32,266.42 L394.77,266.42 L396.23,266.41 L397.69,266.41 L399.15,266.41 L400.60,266.41 L402.06,266.41 L403.52,266.41 L404.97,266.41 L406.43,266.41 L407.89,266.41 L409.35,266.40 L410.80,266.40 L412.26,266.40 L413.72,266.40 L415.18,266.40 L416.63,266.40 L418.09,266.40 L419.55,266.40 L421.00,266.40 L422.46,266.39 L423.92,266.39 L425.38,266.39 L426.83,266.39 L428.29,266.39 L429.75,266.39 L431.21,266.39 L432.66,266.39 L434.12,266.39 L435.58,266.39 L437.03,266.38 L438.49,266.38 L439.95,266.38 L441.41,266.38 L442.86,266.38 L444.32,266.38 L445.78,266.38 L447.24,266.38 L448.69,266.38 L450.15,266.38 L451.61,266.38 L453.06,266.37 L454.52,266.37 L455.98,266.37 L457.44,266.37 L458.89,266.37 L460.35,266.37 L461.81,266.37 L463.27,266.37 L464.72,266.37 L466.18,266.37 L467.64,266.37 L469.10,266.37 L470.55,266.36 L472.01,266.36 L473.47,266.36 L474.93,266.36 L476.38,266.36 L477.84,266.36 L479.30,266.36 L480.75,266.36 L482.21,266.36 L483.67,266.36 L485.13,266.36 L486.58,266.36 L488.04,266.35 L489.50,266.35 L490.96,266.35 L492.41,266.35 L493.87,266.35 L495.33,266.35 L496.79,266.35 L498.24,266.35 L499.70,266.35 L501.16,266.35 L502.62,266.35 L504.07,266.35 L505.53,266.35 L506.99,266.35 L508.45,266.35 L509.90,266.34 L511.36,266.34 L512.82,266.34 L514.28,266.34 L515.73,266.34 L517.19,266.34 L518.65,266.34 L520.11,266.34 L521.56,266.34 L523.02,266.34 L524.48,266.34 L525.94,266.34 L527.39,266.34 L528.85,266.34 L530.31,266.34 L531.77,266.34 L533.22,266.34 L534.68,266.33 L536.14,266.33 L537.60,266.33 L539.06,266.33 L540.51,266.33 L541.97,266.33 L543.43,266.33 L544.89,266.33 L546.34,266.33 L547.80,266.33 L549.26,266.33 L550.72,266.33 L552.17,266.33 L553.63,266.33 L555.09,266.33 L556.55,266.33 L558.00,266.33 L559.46,266.33 L560.92,266.33 L562.38,266.33 L563.84,266.33 L565.29,266.32 L566.75,266.32 L568.21,266.32 L569.67,266.32 L571.12,266.32 L572.58,266.32 L574.04,266.32 L575.50,266.32 L576.96,266.32 L578.41,266.32 L579.87,266.32 L581.33,266.32 L582.79,266.32 L584.24,266.32 L585.70,266.32 L587.16,266.32 L588.62,266.32 L590.08,266.32 L591.53,266.32 L592.99,266.32 L594.45,266.32 L595.91,266.32 L597.36,266.32 L598.82,266.32 L600.28,266.32 L601.74,266.32 L603.20,266.32 L604.65,266.31 L606.11,266.31 L607.57,266.31 L609.03,266.31 L610.49,266.31 L611.94,266.31 L613.40,266.31 L614.86,266.31 L616.32,266.31 L617.77,266.31 L619.23,266.31 L620.69,266.31 L622.15,266.31 L623.61,266.31 L625.06,266.31 L626.52,266.31 L627.98,266.31 L629.44,266.31 L630.90,266.31 L632.35,266.31 L633.81,266.31 L635.27,266.31 L636.73,266.31 L638.19,266.31 L639.64,266.31 L641.10,266.31 L642.56,266.31 L644.02,266.31 L645.48,266.31 L646.93,266.31 L648.39,266.31 L649.85,266.31 L651.31,266.31 L652.77,266.31 L654.22,266.31 L655.68,266.31 L657.14,266.31 L658.60,266.31 L660.06,266.31 L661.52,266.31 L662.97,266.31 L664.43,266.31 L665.89,266.31 L667.35,266.31 L668.81,266.30 L670.26,266.30 L671.72,266.30 L673.18,266.30 L674.64,266.30 L676.10,266.30 L677.56,266.30 L679.01,266.30 L680.47,266.30 L681.93,266.30 L683.39,266.30 L684.85,266.30 L686.30,266.30 L687.76,266.30 L689.22,266.30 L690.68,266.30 L692.14,266.30 L693.60,266.30 L695.05,266.30 L696.51,266.30 L697.97,266.30 L699.43,266.30 L700.89,266.30 L702.35,266.30 L703.80,266.30 L705.26,266.30 L706.72,266.30 L708.18,266.30 L709.64,266.30 L711.10,266.30 L712.55,266.30 L714.01,266.30 L715.47,266.30 L716.93,266.30 L718.39,266.30 L719.85,266.30 L721.30,266.30 L722.76,266.30 L724.22,266.30 L725.68,266.30 L727.14,266.30 L728.60,266.30 L730.06,266.30 L731.51,266.30 L732.97,266.30 L734.43,266.30 L735.89,266.30 L737.35,266.30 L738.81,266.30 L740.26,266.30 L741.72,266.30 L743.18,266.30 L744.64,266.30 L746.10,266.30 L747.56,266.30 L749.02,266.30 L750.47,266.30 L751.93,266.30 L753.39,266.30 L754.85,266.30 L756.31,266.30 L757.77,266.30 L759.23,266.30 L760.68,266.30 L762.14,266.30 L763.60,266.30 L765.06,266.30 L766.52,266.30 L767.98,266.30 L769.44,266.30 L770.90,266.30 L772.35,266.30 L773.81,266.30 L775.27,266.30 L776.73,266.30 L778.19,266.30 L779.65,266.30 L781.11,266.30 L782.56,266.30 L784.02,266.30 L785.48,266.30 L786.94,266.30 L788.40,266.30" stroke="#ffff00" stroke-width="2.5" stroke-dasharray="3.300,3.300,3.300,9.900" stroke-linejoin="round" fill="none"/>
<path d="M221.40,250.00 L221.80,242.40 L222.64,243.58 L223.51,244.73 L224.41,245.86 L225.34,246.95 L226.29,248.02 L227.29,249.06 L228.32,250.06 L229.38,251.05 L230.43,252.03 L231.49,253.02 L232.54,254.01 L233.61,254.98 L234.70,255.92 L235.82,256.82 L236.98,257.66 L238.17,258.46 L239.40,259.23 L240.65,259.96 L241.91,260.65 L243.18,261.33 L244.48,262.01 L245.80,262.62 L247.14,263.12 L248.50,263.46 L249.90,263.75 L251.31,264.00 L252.74,264.22 L254.19,264.41 L255.63,264.58 L257.07,264.72 L258.51,264.85 L259.94,264.98 L261.37,265.09 L262.81,265.20 L264.25,265.30 L265.68,265.39 L267.12,265.48 L268.56,265.55 L270.00,265.61 L271.44,265.67 L272.88,265.71 L274.32,265.76 L275.76,265.80 L277.20,265.84 L278.64,265.88 L280.08,265.91 L281.52,265.95 L282.96,265.98 L284.40,266.01 L285.84,266.04 L287.28,266.07 L288.72,266.10 L290.16,266.12 L291.60,266.14 L293.04,266.16 L294.48,266.17 L295.92,266.18 L297.36,266.19 L298.80,266.20 L300.24,266.20 L301.68,266.20 L303.12,266.20 L304.56,266.20 L306.00,266.20 L307.44,266.20 L308.88,266.20 L310.32,266.21 L311.76,266.21 L313.20,266.21 L314.64,266.21 L316.08,266.21 L317.52,266.21 L318.96,266.21 L320.39,266.21 L321.83,266.21 L323.27,266.21 L324.71,266.21 L326.15,266.21 L327.59,266.21 L329.03,266.22 L330.47,266.22 L331.91,266.22 L333.35,266.22 L334.79,266.22 L336.23,266.22 L337.67,266.22 L339.11,266.22 L340.55,266.22 L341.99,266.22 L343.43,266.22 L344.87,266.22 L346.31,266.22 L347.75,266.22 L349.19,266.23 L350.63,266.23 L352.07,266.23 L353.51,266.23 L354.95,266.23 L356.39,266.23 L357.83,266.23 L359.27,266.23 L360.71,266.23 L362.15,266.23 L363.59,266.23 L365.03,266.23 L366.47,266.23 L367.91,266.23 L369.35,266.23 L370.79,266.24 L372.23,266.24 L373.67,266.24 L375.11,266.24 L376.55,266.24 L377.99,266.24 L379.43,266.24 L380.87,266.24 L382.31,266.24 L383.75,266.24 L385.19,266.24 L386.63,266.24 L388.07,266.24 L389.51,266.24 L390.95,266.24 L392.39,266.24 L393.83,266.24 L395.27,266.25 L396.71,266.25 L398.15,266.25 L399.59,266.25 L401.03,266.25 L402.47,266.25 L403.91,266.25 L405.35,266.25 L406.79,266.25 L408.23,266.25 L409.67,266.25 L411.11,266.25 L412.55,266.25 L413.99,266.25 L415.43,266.25 L416.87,266.25 L418.31,266.25 L419.75,266.25 L421.19,266.25 L422.63,266.26 L424.07,266.26 L425.51,266.26 L426.95,266.26 L428.39,266.26 L429.83,266.26 L431.27,266.26 L432.71,266.26 L434.15,266.26 L435.59,266.26 L437.03,266.26 L438.47,266.26 L439.91,266.26 L441.35,266.26 L442.79,266.26 L444.23,266.26 L445.67,266.26 L447.11,266.26 L448.55,266.26 L449.99,266.26 L451.43,266.26 L452.87,266.26 L454.30,266.26 L455.74,266.27 L457.18,266.27 L458.62,266.27 L460.06,266.27 L461.50,266.27 L462.94,266.27 L464.38,266.27 L465.82,266.27 L467.26,266.27 L468.70,266.27 L470.14,266.27 L471.58,266.27 L473.02,266.27 L474.46,266.27 L475.90,266.27 L477.34,266.27 L478.78,266.27 L480.22,266.27 L481.66,266.27 L483.10,266.27 L484.54,266.27 L485.98,266.27 L487.42,266.27 L488.86,266.27 L490.30,266.27 L491.74,266.27 L493.18,266.27 L494.62,266.28 L496.06,266.28 L497.50,266.28 L498.94,266.28 L500.38,266.28 L501.82,266.28 L503.26,266.28 L504.70,266.28 L506.14,266.28 L507.58,266.28 L509.02,266.28 L510.46,266.28 L511.90,266.28 L513.34,266.28 L514.78,266.28 L516.22,266.28 L517.66,266.28 L519.10,266.28 L520.54,266.28 L521.98,266.28 L523.42,266.28 L524.86,266.28 L526.30,266.28 L527.74,266.28 L529.18,266.28 L530.62,266.28 L532.06,266.28 L533.50,266.28 L534.94,266.28 L536.38,266.28 L537.82,266.28 L539.26,266.28 L540.70,266.28 L542.14,266.28 L543.58,266.28 L545.02,266.29 L546.46,266.29 L547.90,266.29 L549.34,266.29 L550.78,266.29 L552.22,266.29 L553.66,266.29 L555.10,266.29 L556.54,266.29 L557.98,266.29 L559.42,266.29 L560.86,266.29 L562.30,266.29 L563.74,266.29 L565.18,266.29 L566.62,266.29 L568.06,266.29 L569.50,266.29 L570.94,266.29 L572.38,266.29 L573.82,266.29 L575.26,266.29 L576.70,266.29 L578.14,266.29 L579.58,266.29 L581.02,266.29 L582.46,266.29 L583.90,266.29 L585.34,266.29 L586.78,266.29 L588.22,266.29 L589.66,266.29 L591.10,266.29 L592.54,266.29 L593.98,266.29 L595.42,266.29 L596.86,266.29 L598.30,266.29 L599.74,266.29 L601.18,266.29 L602.62,266.29 L604.06,266.29 L605.50,266.29 L606.94,266.29 L608.38,266.29 L609.82,266.29 L611.26,266.29 L612.70,266.29 L614.14,266.29 L615.58,266.29 L617.02,266.29 L618.46,266.29 L619.90,266.29 L621.34,266.29 L622.78,266.29 L624.22,266.29 L625.66,266.29 L627.10,266.29 L628.54,266.29 L629.98,266.30 L631.42,266.30 L632.86,266.30 L634.30,266.30 L635.74,266.30 L637.18,266.30 L638.62,266.30 L640.06,266.30 L641.50,266.30 L642.94,266.30 L644.38,266.30 L645.82,266.30 L647.26,266.30 L648.71,266.30 L650.15,266.30 L651.59,266.30 L653.03,266.30 L654.47,266.30 L655.91,266.30 L657.35,266.30 L658.79,266.30 L660.23,266.30 L661.67,266.30 L663.11,266.30 L664.55,266.30 L665.99,266.30 L667.43,266.30 L668.87,266.30 L670.31,266.30 L671.75,266.30 L673.19,266.30 L674.63,266.30 L676.07,266.30 L677.51,266.30 L678.95,266.30 L680.39,266.30 L681.83,266.30 L683.27,266.30 L684.71,266.30 L686.15,266.30 L687.59,266.30 L689.03,266.30 L690.47,266.30 L691.91,266.30 L693.35,266.30 L694.79,266.30 L696.23,266.30 L697.67,266.30 L699.11,266.30 L700.55,266.30 L701.99,266.30 L703.43,266.30 L704.87,266.30 L706.31,266.30 L707.75,266.30 L709.19,266.30 L710.63,266.30 L712.07,266.30 L713.51,266.30 L714.95,266.30 L716.39,266.30 L717.83,266.30 L719.27,266.30 L720.71,266.30 L722.15,266.30 L723.59,266.30 L725.03,266.30 L726.47,266.30 L727.91,266.30 L729.35,266.30 L730.79,266.30 L732.23,266.30 L733.67,266.30 L735.11,266.30 L736.55,266.30 L737.99,266.30 L739.43,266.30 L740.87,266.30 L742.31,266.30 L743.75,266.30 L745.19,266.30 L746.63,266.30 L748.07,266.30 L749.51,266.30 L750.95,266.30 L752.39,266.30 L753.83,266.30 L755.28,266.30 L756.72,266.30 L758.16,266.30 L759.60,266.30 L761.04,266.30 L762.48,266.30 L763.92,266.30 L765.36,266.30 L766.80,266.30 L768.24,266.30 L769.68,266.30 L771.12,266.30 L772.56,266.30 L774.00,266.30 L775.44,266.30 L776.88,266.30 L778.32,266.30 L779.76,266.30 L781.20,266.30 L782.64,266.30 L784.08,266.30 L785.52,266.30 L786.96,266.30 L788.40,266.30" stroke="#000000" stroke-width="2.5" stroke-dasharray="1.650,3.300,9.900,3.300,1.650,3.300" stroke-linejoin="round" fill="none"/>
</g>
<rect x="113.00" y="26.50" width="675.40" height="479.50" fill="none" stroke="#000" stroke-width="2"/>
<g font-family="Liberation Sans, sans-serif" font-size="23" fill="#000" text-rendering="geometricPrecision">
<g transform="translate(99.50,514.20) scale(0.9357,1)" font-size="24.9"><text text-anchor="end">-0.2</text></g>
<g transform="translate(99.50,454.26) scale(0.9357,1)" font-size="24.9"><path transform="translate(-27.69,0) scale(0.02490,-0.02380)" d="M271,0 L271,505 L101,505 L101,572 C185,578 258,596 296,706 L359,706 L359,0 Z"/><text x="-56.75 -48.46 -34.61 -13.84" y="0">-0.5</text></g>
<g transform="translate(99.50,394.33) scale(0.9357,1)" font-size="24.9"><path transform="translate(-13.84,0) scale(0.02490,-0.02380)" d="M271,0 L271,505 L101,505 L101,572 C185,578 258,596 296,706 L359,706 L359,0 Z"/><text x="-42.90 -34.61 -20.77" y="0">-0.</text></g>
<g transform="translate(99.50,334.39) scale(0.9357,1)" font-size="24.9"><text text-anchor="end">-0.05</text></g>
<g transform="translate(99.50,274.45) scale(0.9357,1)" font-size="24.9"><text text-anchor="end">0</text></g>
<g transform="translate(99.50,214.51) scale(0.9357,1)" font-size="24.9"><text text-anchor="end">0.05</text></g>
<g transform="translate(99.50,154.57) scale(0.9357,1)" font-size="24.9"><path transform="translate(-13.84,0) scale(0.02490,-0.02380)" d="M271,0 L271,505 L101,505 L101,572 C185,578 258,596 296,706 L359,706 L359,0 Z"/><text x="-34.61 -20.77" y="0">0.</text></g>
<g transform="translate(99.50,94.64) scale(0.9357,1)" font-size="24.9"><path transform="translate(-27.69,0) scale(0.02490,-0.02380)" d="M271,0 L271,505 L101,505 L101,572 C185,578 258,596 296,706 L359,706 L359,0 Z"/><text x="-48.46 -34.61 -13.84" y="0">0.5</text></g>
<g transform="translate(99.50,34.70) scale(0.9357,1)" font-size="24.9"><text text-anchor="end">0.2</text></g>
<g transform="translate(116.20,537.70) scale(0.9357,1)" font-size="24.9"><text text-anchor="middle">0</text></g>
<g transform="translate(251.28,537.70) scale(0.9357,1)" font-size="24.9"><text text-anchor="middle">0.5</text></g>
<g transform="translate(386.36,537.70) scale(0.9357,1)" font-size="24.9"><path transform="translate(-6.92,0) scale(0.02490,-0.02380)" d="M271,0 L271,505 L101,505 L101,572 C185,578 258,596 296,706 L359,706 L359,0 Z"/></g>
<g transform="translate(521.44,537.70) scale(0.9357,1)" font-size="24.9"><path transform="translate(-17.31,0) scale(0.02490,-0.02380)" d="M271,0 L271,505 L101,505 L101,572 C185,578 258,596 296,706 L359,706 L359,0 Z"/><text x="-3.46 3.46" y="0">.5</text></g>
<g transform="translate(656.52,537.70) scale(0.9357,1)" font-size="24.9"><text text-anchor="middle">2</text></g>
<g transform="translate(791.60,537.70) scale(0.9357,1)" font-size="24.9"><text text-anchor="middle">2.5</text></g>
<g transform="translate(681.80,56.80) scale(0.9790,1)" font-size="23.8"><text text-anchor="end">analytic</text></g>
<g transform="translate(681.80,79.82) scale(0.9790,1)" font-size="23.8"><path transform="translate(-13.23,0) scale(0.02380,-0.02380)" d="M271,0 L271,505 L101,505 L101,572 C185,578 258,596 296,706 L359,706 L359,0 Z"/><text x="-46.96 -27.13" y="0">m=</text></g>
<g transform="translate(681.80,102.84) scale(0.9357,1)" font-size="24.9"><text text-anchor="end">3</text></g>
<g transform="translate(681.80,125.86) scale(0.9357,1)" font-size="24.9"><text text-anchor="end">5</text></g>
<g transform="translate(681.80,148.88) scale(0.9357,1)" font-size="24.9"><text text-anchor="end">7</text></g>
<g transform="translate(681.80,171.90) scale(0.9357,1)" font-size="24.9"><text text-anchor="end">9</text></g>
<g transform="translate(681.80,194.92) scale(0.9357,1)" font-size="24.9"><path transform="translate(-27.69,0) scale(0.02490,-0.02380)" d="M271,0 L271,505 L101,505 L101,572 C185,578 258,596 296,706 L359,706 L359,0 Z"/><path transform="translate(-13.84,0) scale(0.02490,-0.02380)" d="M271,0 L271,505 L101,505 L101,572 C185,578 258,596 296,706 L359,706 L359,0 Z"/></g>
<g transform="translate(681.80,217.94) scale(0.9357,1)" font-size="24.9"><path transform="translate(-27.69,0) scale(0.02490,-0.02380)" d="M271,0 L271,505 L101,505 L101,572 C185,578 258,596 296,706 L359,706 L359,0 Z"/><text x="-13.84" y="0">3</text></g>
<g transform="translate(681.80,240.96) scale(0.9357,1)" font-size="24.9"><path transform="translate(-27.69,0) scale(0.02490,-0.02380)" d="M271,0 L271,505 L101,505 L101,572 C185,578 258,596 296,706 L359,706 L359,0 Z"/><text x="-13.84" y="0">5</text></g>
</g>
<path d="M724.90,45.70 l6.0,6.0 M724.90,51.70 l6.0,-6.0" stroke="#000" stroke-width="1.2" fill="none"/>
<path d="M695.10,71.72 H760.80" stroke="#000" stroke-width="1.3"/>
<path d="M695.10,94.74 H760.80" stroke="#ff0000" stroke-width="2.5" stroke-dasharray="6.600,3.300" fill="none"/>
<path d="M695.10,117.76 H760.80" stroke="#00ff00" stroke-width="2.5" stroke-dasharray="3.300,4.950" fill="none"/>
<path d="M695.10,140.78 H760.80" stroke="#0000ff" stroke-width="2.5" stroke-dasharray="1.650,2.475" fill="none"/>
<path d="M695.10,163.80 H760.80" stroke="#ff00ff" stroke-width="2.5" stroke-dasharray="9.900,3.300,1.650,3.300" fill="none"/>
<path d="M695.10,186.82 H760.80" stroke="#00ffff" stroke-width="2.5" stroke-dasharray="4.950,4.950,1.650,4.950" fill="none"/>
<path d="M695.10,209.84 H760.80" stroke="#ffff00" stroke-width="2.5" stroke-dasharray="3.300,3.300,3.300,9.900" fill="none"/>
<path d="M695.10,232.86 H760.80" stroke="#000000" stroke-width="2.5" stroke-dasharray="1.650,3.300,9.900,3.300,1.650,3.300" fill="none"/>
<text x="450.6" y="574.5" text-anchor="middle" text-rendering="geometricPrecision" font-family="Liberation Serif, serif" font-style="italic" font-size="32.5" stroke="#000" stroke-width="0.35">r/M</text>
<text transform="translate(26.2,287.8) rotate(-90)" text-rendering="geometricPrecision" font-family="Liberation Serif, serif" font-size="34" stroke="#000" stroke-width="0.4">&#920;</text>
<text transform="translate(36.0,265) rotate(-90) scale(1.04,0.93)" text-rendering="geometricPrecision" font-family="Liberation Serif, serif" font-style="italic" font-size="27">m</text>
</svg>
</body></html>
